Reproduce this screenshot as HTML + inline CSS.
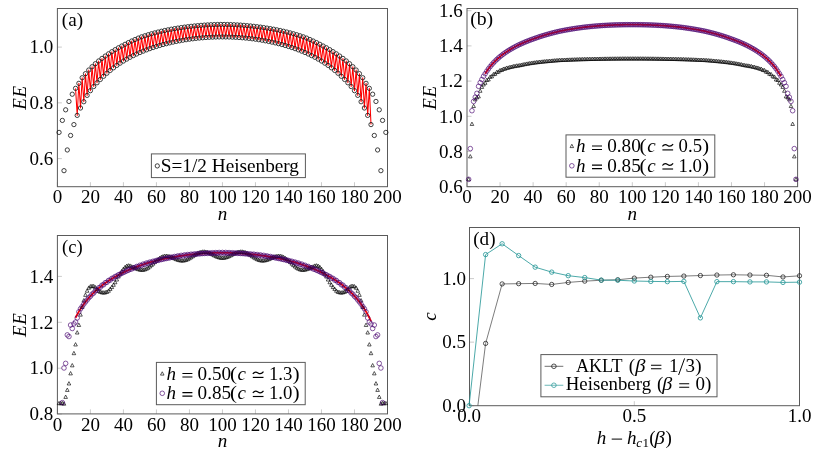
<!DOCTYPE html>
<html><head><meta charset="utf-8"><title>figure</title>
<style>
html,body{margin:0;padding:0;background:#fff;}
svg{display:block;will-change:transform;}
text{font-family:"Liberation Serif",serif;fill:#000;}
</style></head><body>
<svg width="822" height="455" viewBox="0 0 822 455">
<rect width="822" height="455" fill="#fff"/>
<line x1="57.40" y1="186.70" x2="57.40" y2="182.20" stroke="#a8a8a8" stroke-width="0.6"/>
<line x1="90.41" y1="186.70" x2="90.41" y2="182.20" stroke="#a8a8a8" stroke-width="0.6"/>
<line x1="123.42" y1="186.70" x2="123.42" y2="182.20" stroke="#a8a8a8" stroke-width="0.6"/>
<line x1="156.43" y1="186.70" x2="156.43" y2="182.20" stroke="#a8a8a8" stroke-width="0.6"/>
<line x1="189.44" y1="186.70" x2="189.44" y2="182.20" stroke="#a8a8a8" stroke-width="0.6"/>
<line x1="222.45" y1="186.70" x2="222.45" y2="182.20" stroke="#a8a8a8" stroke-width="0.6"/>
<line x1="255.46" y1="186.70" x2="255.46" y2="182.20" stroke="#a8a8a8" stroke-width="0.6"/>
<line x1="288.47" y1="186.70" x2="288.47" y2="182.20" stroke="#a8a8a8" stroke-width="0.6"/>
<line x1="321.48" y1="186.70" x2="321.48" y2="182.20" stroke="#a8a8a8" stroke-width="0.6"/>
<line x1="354.49" y1="186.70" x2="354.49" y2="182.20" stroke="#a8a8a8" stroke-width="0.6"/>
<line x1="387.50" y1="186.70" x2="387.50" y2="182.20" stroke="#a8a8a8" stroke-width="0.6"/>
<line x1="57.40" y1="158.60" x2="61.90" y2="158.60" stroke="#a8a8a8" stroke-width="0.6"/>
<line x1="57.40" y1="102.85" x2="61.90" y2="102.85" stroke="#a8a8a8" stroke-width="0.6"/>
<line x1="57.40" y1="47.10" x2="61.90" y2="47.10" stroke="#a8a8a8" stroke-width="0.6"/>
<rect x="57.40" y="8.50" width="330.10" height="178.20" fill="none" stroke="#5a5a5a" stroke-width="1"/>
<text x="57.40" y="203.40" font-size="19" text-anchor="middle"  style="">0</text>
<text x="90.41" y="203.40" font-size="19" text-anchor="middle"  style="">20</text>
<text x="123.42" y="203.40" font-size="19" text-anchor="middle"  style="">40</text>
<text x="156.43" y="203.40" font-size="19" text-anchor="middle"  style="">60</text>
<text x="189.44" y="203.40" font-size="19" text-anchor="middle"  style="">80</text>
<text x="222.45" y="203.40" font-size="19" text-anchor="middle"  style="">100</text>
<text x="255.46" y="203.40" font-size="19" text-anchor="middle"  style="">120</text>
<text x="288.47" y="203.40" font-size="19" text-anchor="middle"  style="">140</text>
<text x="321.48" y="203.40" font-size="19" text-anchor="middle"  style="">160</text>
<text x="354.49" y="203.40" font-size="19" text-anchor="middle"  style="">180</text>
<text x="387.50" y="203.40" font-size="19" text-anchor="middle"  style="">200</text>
<text x="53.20" y="164.85" font-size="19" text-anchor="end"  style="">0.6</text>
<text x="53.20" y="109.10" font-size="19" text-anchor="end"  style="">0.8</text>
<text x="53.20" y="53.35" font-size="19" text-anchor="end"  style="">1.0</text>
<text x="222.45" y="219.50" font-size="19" text-anchor="middle"  style="font-style:italic">n</text>
<text transform="translate(26.2,97.60) rotate(-90)" font-size="19" text-anchor="middle" style="font-style:italic;letter-spacing:0.6px">EE</text>
<text transform="translate(61.86,25.50) scale(1.0094,1)" font-size="19" style="">(a)</text>
<clipPath id="ca"><rect x="57.4" y="8.5" width="330.1" height="178.2"/></clipPath>
<g clip-path="url(#ca)">
<polyline points="75.56,88.36 77.21,115.39 78.86,83.34 80.51,108.01 82.16,77.75 83.81,101.73 85.46,73.69 87.11,95.38 88.76,70.04 90.41,90.68 92.06,66.74 93.71,86.53 95.36,63.73 97.01,82.80 98.66,60.97 100.31,79.45 101.96,58.42 103.61,76.27 105.26,56.07 106.91,73.23 108.57,53.83 110.22,70.42 111.87,51.68 113.52,67.82 115.17,49.68 116.82,65.40 118.47,47.79 120.12,63.15 121.77,46.02 123.42,61.04 125.07,44.30 126.72,59.11 128.37,42.63 130.02,57.30 131.67,41.04 133.32,55.60 134.97,39.54 136.62,54.01 138.27,38.11 139.93,52.52 141.58,36.85 143.23,51.14 144.88,35.77 146.53,49.86 148.18,34.74 149.83,48.65 151.48,33.78 153.13,47.52 154.78,32.88 156.43,46.46 158.08,32.04 159.73,45.47 161.38,31.25 163.03,44.55 164.68,30.52 166.33,43.69 167.98,29.84 169.63,42.88 171.28,29.21 172.94,42.14 174.59,28.62 176.24,41.45 177.89,28.08 179.54,40.81 181.19,27.58 182.84,40.23 184.49,27.12 186.14,39.70 187.79,26.71 189.44,39.21 191.09,26.32 192.74,38.78 194.39,25.96 196.04,38.39 197.69,25.64 199.34,38.05 200.99,25.36 202.64,37.76 204.29,25.11 205.95,37.51 207.60,24.90 209.25,37.30 210.90,24.74 212.55,37.14 214.20,24.60 215.85,37.02 217.50,24.51 219.15,36.95 220.80,24.45 222.45,36.92 224.10,24.45 225.75,36.95 227.40,24.51 229.05,37.02 230.70,24.60 232.35,37.14 234.00,24.74 235.65,37.30 237.30,24.90 238.96,37.51 240.61,25.11 242.26,37.76 243.91,25.36 245.56,38.05 247.21,25.64 248.86,38.39 250.51,25.96 252.16,38.78 253.81,26.32 255.46,39.21 257.11,26.71 258.76,39.70 260.41,27.12 262.06,40.23 263.71,27.58 265.36,40.81 267.01,28.08 268.66,41.45 270.31,28.62 271.96,42.14 273.62,29.21 275.27,42.88 276.92,29.84 278.57,43.69 280.22,30.52 281.87,44.55 283.52,31.25 285.17,45.47 286.82,32.04 288.47,46.46 290.12,32.88 291.77,47.52 293.42,33.78 295.07,48.65 296.72,34.74 298.37,49.86 300.02,35.77 301.67,51.14 303.32,36.85 304.98,52.52 306.63,38.11 308.28,54.01 309.93,39.54 311.58,55.60 313.23,41.04 314.88,57.30 316.53,42.63 318.18,59.11 319.83,44.30 321.48,61.04 323.13,46.02 324.78,63.15 326.43,47.79 328.08,65.40 329.73,49.68 331.38,67.82 333.03,51.68 334.68,70.42 336.33,53.83 337.99,73.23 339.64,56.07 341.29,76.27 342.94,58.42 344.59,79.45 346.24,60.97 347.89,82.80 349.54,63.73 351.19,86.53 352.84,66.74 354.49,90.68 356.14,70.04 357.79,95.38 359.44,73.69 361.09,101.73 362.74,77.75 364.39,108.01 366.04,83.34 367.69,115.39 369.34,88.36 371.00,124.59" fill="none" stroke="#ff0000" stroke-width="1.05" stroke-linejoin="round"/>
</g>
<g><circle cx="59.05" cy="132.40" r="2.15" fill="none" stroke="#111" stroke-width="0.8"/><circle cx="62.35" cy="120.41" r="2.15" fill="none" stroke="#111" stroke-width="0.8"/><circle cx="64.00" cy="170.67" r="2.15" fill="none" stroke="#111" stroke-width="0.8"/><circle cx="65.65" cy="109.82" r="2.15" fill="none" stroke="#111" stroke-width="0.8"/><circle cx="67.30" cy="149.96" r="2.15" fill="none" stroke="#111" stroke-width="0.8"/><circle cx="68.95" cy="101.46" r="2.15" fill="none" stroke="#111" stroke-width="0.8"/><circle cx="70.60" cy="135.46" r="2.15" fill="none" stroke="#111" stroke-width="0.8"/><circle cx="72.25" cy="94.21" r="2.15" fill="none" stroke="#111" stroke-width="0.8"/><circle cx="73.91" cy="124.59" r="2.15" fill="none" stroke="#111" stroke-width="0.8"/><circle cx="75.56" cy="88.36" r="2.15" fill="none" stroke="#111" stroke-width="0.8"/><circle cx="77.21" cy="115.39" r="2.15" fill="none" stroke="#111" stroke-width="0.8"/><circle cx="78.86" cy="83.34" r="2.15" fill="none" stroke="#111" stroke-width="0.8"/><circle cx="80.51" cy="108.01" r="2.15" fill="none" stroke="#111" stroke-width="0.8"/><circle cx="82.16" cy="77.75" r="2.15" fill="none" stroke="#111" stroke-width="0.8"/><circle cx="83.81" cy="101.73" r="2.15" fill="none" stroke="#111" stroke-width="0.8"/><circle cx="85.46" cy="73.69" r="2.15" fill="none" stroke="#111" stroke-width="0.8"/><circle cx="87.11" cy="95.38" r="2.15" fill="none" stroke="#111" stroke-width="0.8"/><circle cx="88.76" cy="70.04" r="2.15" fill="none" stroke="#111" stroke-width="0.8"/><circle cx="90.41" cy="90.68" r="2.15" fill="none" stroke="#111" stroke-width="0.8"/><circle cx="92.06" cy="66.74" r="2.15" fill="none" stroke="#111" stroke-width="0.8"/><circle cx="93.71" cy="86.53" r="2.15" fill="none" stroke="#111" stroke-width="0.8"/><circle cx="95.36" cy="63.73" r="2.15" fill="none" stroke="#111" stroke-width="0.8"/><circle cx="97.01" cy="82.80" r="2.15" fill="none" stroke="#111" stroke-width="0.8"/><circle cx="98.66" cy="60.97" r="2.15" fill="none" stroke="#111" stroke-width="0.8"/><circle cx="100.31" cy="79.45" r="2.15" fill="none" stroke="#111" stroke-width="0.8"/><circle cx="101.96" cy="58.42" r="2.15" fill="none" stroke="#111" stroke-width="0.8"/><circle cx="103.61" cy="76.27" r="2.15" fill="none" stroke="#111" stroke-width="0.8"/><circle cx="105.26" cy="56.07" r="2.15" fill="none" stroke="#111" stroke-width="0.8"/><circle cx="106.91" cy="73.23" r="2.15" fill="none" stroke="#111" stroke-width="0.8"/><circle cx="108.57" cy="53.83" r="2.15" fill="none" stroke="#111" stroke-width="0.8"/><circle cx="110.22" cy="70.42" r="2.15" fill="none" stroke="#111" stroke-width="0.8"/><circle cx="111.87" cy="51.68" r="2.15" fill="none" stroke="#111" stroke-width="0.8"/><circle cx="113.52" cy="67.82" r="2.15" fill="none" stroke="#111" stroke-width="0.8"/><circle cx="115.17" cy="49.68" r="2.15" fill="none" stroke="#111" stroke-width="0.8"/><circle cx="116.82" cy="65.40" r="2.15" fill="none" stroke="#111" stroke-width="0.8"/><circle cx="118.47" cy="47.79" r="2.15" fill="none" stroke="#111" stroke-width="0.8"/><circle cx="120.12" cy="63.15" r="2.15" fill="none" stroke="#111" stroke-width="0.8"/><circle cx="121.77" cy="46.02" r="2.15" fill="none" stroke="#111" stroke-width="0.8"/><circle cx="123.42" cy="61.04" r="2.15" fill="none" stroke="#111" stroke-width="0.8"/><circle cx="125.07" cy="44.30" r="2.15" fill="none" stroke="#111" stroke-width="0.8"/><circle cx="126.72" cy="59.11" r="2.15" fill="none" stroke="#111" stroke-width="0.8"/><circle cx="128.37" cy="42.63" r="2.15" fill="none" stroke="#111" stroke-width="0.8"/><circle cx="130.02" cy="57.30" r="2.15" fill="none" stroke="#111" stroke-width="0.8"/><circle cx="131.67" cy="41.04" r="2.15" fill="none" stroke="#111" stroke-width="0.8"/><circle cx="133.32" cy="55.60" r="2.15" fill="none" stroke="#111" stroke-width="0.8"/><circle cx="134.97" cy="39.54" r="2.15" fill="none" stroke="#111" stroke-width="0.8"/><circle cx="136.62" cy="54.01" r="2.15" fill="none" stroke="#111" stroke-width="0.8"/><circle cx="138.27" cy="38.11" r="2.15" fill="none" stroke="#111" stroke-width="0.8"/><circle cx="139.93" cy="52.52" r="2.15" fill="none" stroke="#111" stroke-width="0.8"/><circle cx="141.58" cy="36.85" r="2.15" fill="none" stroke="#111" stroke-width="0.8"/><circle cx="143.23" cy="51.14" r="2.15" fill="none" stroke="#111" stroke-width="0.8"/><circle cx="144.88" cy="35.77" r="2.15" fill="none" stroke="#111" stroke-width="0.8"/><circle cx="146.53" cy="49.86" r="2.15" fill="none" stroke="#111" stroke-width="0.8"/><circle cx="148.18" cy="34.74" r="2.15" fill="none" stroke="#111" stroke-width="0.8"/><circle cx="149.83" cy="48.65" r="2.15" fill="none" stroke="#111" stroke-width="0.8"/><circle cx="151.48" cy="33.78" r="2.15" fill="none" stroke="#111" stroke-width="0.8"/><circle cx="153.13" cy="47.52" r="2.15" fill="none" stroke="#111" stroke-width="0.8"/><circle cx="154.78" cy="32.88" r="2.15" fill="none" stroke="#111" stroke-width="0.8"/><circle cx="156.43" cy="46.46" r="2.15" fill="none" stroke="#111" stroke-width="0.8"/><circle cx="158.08" cy="32.04" r="2.15" fill="none" stroke="#111" stroke-width="0.8"/><circle cx="159.73" cy="45.47" r="2.15" fill="none" stroke="#111" stroke-width="0.8"/><circle cx="161.38" cy="31.25" r="2.15" fill="none" stroke="#111" stroke-width="0.8"/><circle cx="163.03" cy="44.55" r="2.15" fill="none" stroke="#111" stroke-width="0.8"/><circle cx="164.68" cy="30.52" r="2.15" fill="none" stroke="#111" stroke-width="0.8"/><circle cx="166.33" cy="43.69" r="2.15" fill="none" stroke="#111" stroke-width="0.8"/><circle cx="167.98" cy="29.84" r="2.15" fill="none" stroke="#111" stroke-width="0.8"/><circle cx="169.63" cy="42.88" r="2.15" fill="none" stroke="#111" stroke-width="0.8"/><circle cx="171.28" cy="29.21" r="2.15" fill="none" stroke="#111" stroke-width="0.8"/><circle cx="172.94" cy="42.14" r="2.15" fill="none" stroke="#111" stroke-width="0.8"/><circle cx="174.59" cy="28.62" r="2.15" fill="none" stroke="#111" stroke-width="0.8"/><circle cx="176.24" cy="41.45" r="2.15" fill="none" stroke="#111" stroke-width="0.8"/><circle cx="177.89" cy="28.08" r="2.15" fill="none" stroke="#111" stroke-width="0.8"/><circle cx="179.54" cy="40.81" r="2.15" fill="none" stroke="#111" stroke-width="0.8"/><circle cx="181.19" cy="27.58" r="2.15" fill="none" stroke="#111" stroke-width="0.8"/><circle cx="182.84" cy="40.23" r="2.15" fill="none" stroke="#111" stroke-width="0.8"/><circle cx="184.49" cy="27.12" r="2.15" fill="none" stroke="#111" stroke-width="0.8"/><circle cx="186.14" cy="39.70" r="2.15" fill="none" stroke="#111" stroke-width="0.8"/><circle cx="187.79" cy="26.71" r="2.15" fill="none" stroke="#111" stroke-width="0.8"/><circle cx="189.44" cy="39.21" r="2.15" fill="none" stroke="#111" stroke-width="0.8"/><circle cx="191.09" cy="26.32" r="2.15" fill="none" stroke="#111" stroke-width="0.8"/><circle cx="192.74" cy="38.78" r="2.15" fill="none" stroke="#111" stroke-width="0.8"/><circle cx="194.39" cy="25.96" r="2.15" fill="none" stroke="#111" stroke-width="0.8"/><circle cx="196.04" cy="38.39" r="2.15" fill="none" stroke="#111" stroke-width="0.8"/><circle cx="197.69" cy="25.64" r="2.15" fill="none" stroke="#111" stroke-width="0.8"/><circle cx="199.34" cy="38.05" r="2.15" fill="none" stroke="#111" stroke-width="0.8"/><circle cx="200.99" cy="25.36" r="2.15" fill="none" stroke="#111" stroke-width="0.8"/><circle cx="202.64" cy="37.76" r="2.15" fill="none" stroke="#111" stroke-width="0.8"/><circle cx="204.29" cy="25.11" r="2.15" fill="none" stroke="#111" stroke-width="0.8"/><circle cx="205.95" cy="37.51" r="2.15" fill="none" stroke="#111" stroke-width="0.8"/><circle cx="207.60" cy="24.90" r="2.15" fill="none" stroke="#111" stroke-width="0.8"/><circle cx="209.25" cy="37.30" r="2.15" fill="none" stroke="#111" stroke-width="0.8"/><circle cx="210.90" cy="24.74" r="2.15" fill="none" stroke="#111" stroke-width="0.8"/><circle cx="212.55" cy="37.14" r="2.15" fill="none" stroke="#111" stroke-width="0.8"/><circle cx="214.20" cy="24.60" r="2.15" fill="none" stroke="#111" stroke-width="0.8"/><circle cx="215.85" cy="37.02" r="2.15" fill="none" stroke="#111" stroke-width="0.8"/><circle cx="217.50" cy="24.51" r="2.15" fill="none" stroke="#111" stroke-width="0.8"/><circle cx="219.15" cy="36.95" r="2.15" fill="none" stroke="#111" stroke-width="0.8"/><circle cx="220.80" cy="24.45" r="2.15" fill="none" stroke="#111" stroke-width="0.8"/><circle cx="222.45" cy="36.92" r="2.15" fill="none" stroke="#111" stroke-width="0.8"/><circle cx="224.10" cy="24.45" r="2.15" fill="none" stroke="#111" stroke-width="0.8"/><circle cx="225.75" cy="36.95" r="2.15" fill="none" stroke="#111" stroke-width="0.8"/><circle cx="227.40" cy="24.51" r="2.15" fill="none" stroke="#111" stroke-width="0.8"/><circle cx="229.05" cy="37.02" r="2.15" fill="none" stroke="#111" stroke-width="0.8"/><circle cx="230.70" cy="24.60" r="2.15" fill="none" stroke="#111" stroke-width="0.8"/><circle cx="232.35" cy="37.14" r="2.15" fill="none" stroke="#111" stroke-width="0.8"/><circle cx="234.00" cy="24.74" r="2.15" fill="none" stroke="#111" stroke-width="0.8"/><circle cx="235.65" cy="37.30" r="2.15" fill="none" stroke="#111" stroke-width="0.8"/><circle cx="237.30" cy="24.90" r="2.15" fill="none" stroke="#111" stroke-width="0.8"/><circle cx="238.96" cy="37.51" r="2.15" fill="none" stroke="#111" stroke-width="0.8"/><circle cx="240.61" cy="25.11" r="2.15" fill="none" stroke="#111" stroke-width="0.8"/><circle cx="242.26" cy="37.76" r="2.15" fill="none" stroke="#111" stroke-width="0.8"/><circle cx="243.91" cy="25.36" r="2.15" fill="none" stroke="#111" stroke-width="0.8"/><circle cx="245.56" cy="38.05" r="2.15" fill="none" stroke="#111" stroke-width="0.8"/><circle cx="247.21" cy="25.64" r="2.15" fill="none" stroke="#111" stroke-width="0.8"/><circle cx="248.86" cy="38.39" r="2.15" fill="none" stroke="#111" stroke-width="0.8"/><circle cx="250.51" cy="25.96" r="2.15" fill="none" stroke="#111" stroke-width="0.8"/><circle cx="252.16" cy="38.78" r="2.15" fill="none" stroke="#111" stroke-width="0.8"/><circle cx="253.81" cy="26.32" r="2.15" fill="none" stroke="#111" stroke-width="0.8"/><circle cx="255.46" cy="39.21" r="2.15" fill="none" stroke="#111" stroke-width="0.8"/><circle cx="257.11" cy="26.71" r="2.15" fill="none" stroke="#111" stroke-width="0.8"/><circle cx="258.76" cy="39.70" r="2.15" fill="none" stroke="#111" stroke-width="0.8"/><circle cx="260.41" cy="27.12" r="2.15" fill="none" stroke="#111" stroke-width="0.8"/><circle cx="262.06" cy="40.23" r="2.15" fill="none" stroke="#111" stroke-width="0.8"/><circle cx="263.71" cy="27.58" r="2.15" fill="none" stroke="#111" stroke-width="0.8"/><circle cx="265.36" cy="40.81" r="2.15" fill="none" stroke="#111" stroke-width="0.8"/><circle cx="267.01" cy="28.08" r="2.15" fill="none" stroke="#111" stroke-width="0.8"/><circle cx="268.66" cy="41.45" r="2.15" fill="none" stroke="#111" stroke-width="0.8"/><circle cx="270.31" cy="28.62" r="2.15" fill="none" stroke="#111" stroke-width="0.8"/><circle cx="271.96" cy="42.14" r="2.15" fill="none" stroke="#111" stroke-width="0.8"/><circle cx="273.62" cy="29.21" r="2.15" fill="none" stroke="#111" stroke-width="0.8"/><circle cx="275.27" cy="42.88" r="2.15" fill="none" stroke="#111" stroke-width="0.8"/><circle cx="276.92" cy="29.84" r="2.15" fill="none" stroke="#111" stroke-width="0.8"/><circle cx="278.57" cy="43.69" r="2.15" fill="none" stroke="#111" stroke-width="0.8"/><circle cx="280.22" cy="30.52" r="2.15" fill="none" stroke="#111" stroke-width="0.8"/><circle cx="281.87" cy="44.55" r="2.15" fill="none" stroke="#111" stroke-width="0.8"/><circle cx="283.52" cy="31.25" r="2.15" fill="none" stroke="#111" stroke-width="0.8"/><circle cx="285.17" cy="45.47" r="2.15" fill="none" stroke="#111" stroke-width="0.8"/><circle cx="286.82" cy="32.04" r="2.15" fill="none" stroke="#111" stroke-width="0.8"/><circle cx="288.47" cy="46.46" r="2.15" fill="none" stroke="#111" stroke-width="0.8"/><circle cx="290.12" cy="32.88" r="2.15" fill="none" stroke="#111" stroke-width="0.8"/><circle cx="291.77" cy="47.52" r="2.15" fill="none" stroke="#111" stroke-width="0.8"/><circle cx="293.42" cy="33.78" r="2.15" fill="none" stroke="#111" stroke-width="0.8"/><circle cx="295.07" cy="48.65" r="2.15" fill="none" stroke="#111" stroke-width="0.8"/><circle cx="296.72" cy="34.74" r="2.15" fill="none" stroke="#111" stroke-width="0.8"/><circle cx="298.37" cy="49.86" r="2.15" fill="none" stroke="#111" stroke-width="0.8"/><circle cx="300.02" cy="35.77" r="2.15" fill="none" stroke="#111" stroke-width="0.8"/><circle cx="301.67" cy="51.14" r="2.15" fill="none" stroke="#111" stroke-width="0.8"/><circle cx="303.32" cy="36.85" r="2.15" fill="none" stroke="#111" stroke-width="0.8"/><circle cx="304.98" cy="52.52" r="2.15" fill="none" stroke="#111" stroke-width="0.8"/><circle cx="306.63" cy="38.11" r="2.15" fill="none" stroke="#111" stroke-width="0.8"/><circle cx="308.28" cy="54.01" r="2.15" fill="none" stroke="#111" stroke-width="0.8"/><circle cx="309.93" cy="39.54" r="2.15" fill="none" stroke="#111" stroke-width="0.8"/><circle cx="311.58" cy="55.60" r="2.15" fill="none" stroke="#111" stroke-width="0.8"/><circle cx="313.23" cy="41.04" r="2.15" fill="none" stroke="#111" stroke-width="0.8"/><circle cx="314.88" cy="57.30" r="2.15" fill="none" stroke="#111" stroke-width="0.8"/><circle cx="316.53" cy="42.63" r="2.15" fill="none" stroke="#111" stroke-width="0.8"/><circle cx="318.18" cy="59.11" r="2.15" fill="none" stroke="#111" stroke-width="0.8"/><circle cx="319.83" cy="44.30" r="2.15" fill="none" stroke="#111" stroke-width="0.8"/><circle cx="321.48" cy="61.04" r="2.15" fill="none" stroke="#111" stroke-width="0.8"/><circle cx="323.13" cy="46.02" r="2.15" fill="none" stroke="#111" stroke-width="0.8"/><circle cx="324.78" cy="63.15" r="2.15" fill="none" stroke="#111" stroke-width="0.8"/><circle cx="326.43" cy="47.79" r="2.15" fill="none" stroke="#111" stroke-width="0.8"/><circle cx="328.08" cy="65.40" r="2.15" fill="none" stroke="#111" stroke-width="0.8"/><circle cx="329.73" cy="49.68" r="2.15" fill="none" stroke="#111" stroke-width="0.8"/><circle cx="331.38" cy="67.82" r="2.15" fill="none" stroke="#111" stroke-width="0.8"/><circle cx="333.03" cy="51.68" r="2.15" fill="none" stroke="#111" stroke-width="0.8"/><circle cx="334.68" cy="70.42" r="2.15" fill="none" stroke="#111" stroke-width="0.8"/><circle cx="336.33" cy="53.83" r="2.15" fill="none" stroke="#111" stroke-width="0.8"/><circle cx="337.99" cy="73.23" r="2.15" fill="none" stroke="#111" stroke-width="0.8"/><circle cx="339.64" cy="56.07" r="2.15" fill="none" stroke="#111" stroke-width="0.8"/><circle cx="341.29" cy="76.27" r="2.15" fill="none" stroke="#111" stroke-width="0.8"/><circle cx="342.94" cy="58.42" r="2.15" fill="none" stroke="#111" stroke-width="0.8"/><circle cx="344.59" cy="79.45" r="2.15" fill="none" stroke="#111" stroke-width="0.8"/><circle cx="346.24" cy="60.97" r="2.15" fill="none" stroke="#111" stroke-width="0.8"/><circle cx="347.89" cy="82.80" r="2.15" fill="none" stroke="#111" stroke-width="0.8"/><circle cx="349.54" cy="63.73" r="2.15" fill="none" stroke="#111" stroke-width="0.8"/><circle cx="351.19" cy="86.53" r="2.15" fill="none" stroke="#111" stroke-width="0.8"/><circle cx="352.84" cy="66.74" r="2.15" fill="none" stroke="#111" stroke-width="0.8"/><circle cx="354.49" cy="90.68" r="2.15" fill="none" stroke="#111" stroke-width="0.8"/><circle cx="356.14" cy="70.04" r="2.15" fill="none" stroke="#111" stroke-width="0.8"/><circle cx="357.79" cy="95.38" r="2.15" fill="none" stroke="#111" stroke-width="0.8"/><circle cx="359.44" cy="73.69" r="2.15" fill="none" stroke="#111" stroke-width="0.8"/><circle cx="361.09" cy="101.73" r="2.15" fill="none" stroke="#111" stroke-width="0.8"/><circle cx="362.74" cy="77.75" r="2.15" fill="none" stroke="#111" stroke-width="0.8"/><circle cx="364.39" cy="108.01" r="2.15" fill="none" stroke="#111" stroke-width="0.8"/><circle cx="366.04" cy="83.34" r="2.15" fill="none" stroke="#111" stroke-width="0.8"/><circle cx="367.69" cy="115.39" r="2.15" fill="none" stroke="#111" stroke-width="0.8"/><circle cx="369.34" cy="88.36" r="2.15" fill="none" stroke="#111" stroke-width="0.8"/><circle cx="371.00" cy="124.59" r="2.15" fill="none" stroke="#111" stroke-width="0.8"/><circle cx="372.65" cy="94.21" r="2.15" fill="none" stroke="#111" stroke-width="0.8"/><circle cx="374.30" cy="135.46" r="2.15" fill="none" stroke="#111" stroke-width="0.8"/><circle cx="375.95" cy="101.46" r="2.15" fill="none" stroke="#111" stroke-width="0.8"/><circle cx="377.60" cy="149.96" r="2.15" fill="none" stroke="#111" stroke-width="0.8"/><circle cx="379.25" cy="109.82" r="2.15" fill="none" stroke="#111" stroke-width="0.8"/><circle cx="380.90" cy="170.67" r="2.15" fill="none" stroke="#111" stroke-width="0.8"/><circle cx="382.55" cy="120.41" r="2.15" fill="none" stroke="#111" stroke-width="0.8"/><circle cx="385.85" cy="132.40" r="2.15" fill="none" stroke="#111" stroke-width="0.8"/></g>
<rect x="151.4" y="153.9" width="153.99999999999997" height="23.69999999999999" fill="#fff" stroke="#5a5a5a" stroke-width="1"/>
<circle cx="157.30" cy="165.90" r="2.15" fill="none" stroke="#111" stroke-width="0.8"/>
<text transform="translate(160.81,172.00) scale(1.0133,1)" font-size="19" style="">S=1/2 Heisenberg</text>
<line x1="467.00" y1="186.70" x2="467.00" y2="182.20" stroke="#a8a8a8" stroke-width="0.6"/>
<line x1="500.06" y1="186.70" x2="500.06" y2="182.20" stroke="#a8a8a8" stroke-width="0.6"/>
<line x1="533.12" y1="186.70" x2="533.12" y2="182.20" stroke="#a8a8a8" stroke-width="0.6"/>
<line x1="566.18" y1="186.70" x2="566.18" y2="182.20" stroke="#a8a8a8" stroke-width="0.6"/>
<line x1="599.24" y1="186.70" x2="599.24" y2="182.20" stroke="#a8a8a8" stroke-width="0.6"/>
<line x1="632.30" y1="186.70" x2="632.30" y2="182.20" stroke="#a8a8a8" stroke-width="0.6"/>
<line x1="665.36" y1="186.70" x2="665.36" y2="182.20" stroke="#a8a8a8" stroke-width="0.6"/>
<line x1="698.42" y1="186.70" x2="698.42" y2="182.20" stroke="#a8a8a8" stroke-width="0.6"/>
<line x1="731.48" y1="186.70" x2="731.48" y2="182.20" stroke="#a8a8a8" stroke-width="0.6"/>
<line x1="764.54" y1="186.70" x2="764.54" y2="182.20" stroke="#a8a8a8" stroke-width="0.6"/>
<line x1="797.60" y1="186.70" x2="797.60" y2="182.20" stroke="#a8a8a8" stroke-width="0.6"/>
<line x1="467.00" y1="186.70" x2="471.50" y2="186.70" stroke="#a8a8a8" stroke-width="0.6"/>
<line x1="467.00" y1="151.50" x2="471.50" y2="151.50" stroke="#a8a8a8" stroke-width="0.6"/>
<line x1="467.00" y1="116.30" x2="471.50" y2="116.30" stroke="#a8a8a8" stroke-width="0.6"/>
<line x1="467.00" y1="81.10" x2="471.50" y2="81.10" stroke="#a8a8a8" stroke-width="0.6"/>
<line x1="467.00" y1="45.90" x2="471.50" y2="45.90" stroke="#a8a8a8" stroke-width="0.6"/>
<line x1="467.00" y1="10.70" x2="471.50" y2="10.70" stroke="#a8a8a8" stroke-width="0.6"/>
<rect x="467.00" y="8.50" width="330.60" height="178.20" fill="none" stroke="#5a5a5a" stroke-width="1"/>
<text x="467.00" y="203.40" font-size="19" text-anchor="middle"  style="">0</text>
<text x="500.06" y="203.40" font-size="19" text-anchor="middle"  style="">20</text>
<text x="533.12" y="203.40" font-size="19" text-anchor="middle"  style="">40</text>
<text x="566.18" y="203.40" font-size="19" text-anchor="middle"  style="">60</text>
<text x="599.24" y="203.40" font-size="19" text-anchor="middle"  style="">80</text>
<text x="632.30" y="203.40" font-size="19" text-anchor="middle"  style="">100</text>
<text x="665.36" y="203.40" font-size="19" text-anchor="middle"  style="">120</text>
<text x="698.42" y="203.40" font-size="19" text-anchor="middle"  style="">140</text>
<text x="731.48" y="203.40" font-size="19" text-anchor="middle"  style="">160</text>
<text x="764.54" y="203.40" font-size="19" text-anchor="middle"  style="">180</text>
<text x="797.60" y="203.40" font-size="19" text-anchor="middle"  style="">200</text>
<text x="462.80" y="192.95" font-size="19" text-anchor="end"  style="">0.6</text>
<text x="462.80" y="157.75" font-size="19" text-anchor="end"  style="">0.8</text>
<text x="462.80" y="122.55" font-size="19" text-anchor="end"  style="">1.0</text>
<text x="462.80" y="87.35" font-size="19" text-anchor="end"  style="">1.2</text>
<text x="462.80" y="52.15" font-size="19" text-anchor="end"  style="">1.4</text>
<text x="462.80" y="16.95" font-size="19" text-anchor="end"  style="">1.6</text>
<text x="632.30" y="219.50" font-size="19" text-anchor="middle"  style="font-style:italic">n</text>
<text transform="translate(435.5,97.60) rotate(-90)" font-size="19" text-anchor="middle" style="font-style:italic;letter-spacing:0.6px">EE</text>
<text transform="translate(470.13,25.10) scale(1.0398,1)" font-size="19" style="">(b)</text>
<polyline points="485.18,73.70 486.84,71.13 488.49,68.78 490.14,66.63 491.80,64.65 493.45,62.81 495.10,61.10 496.75,59.51 498.41,58.01 500.06,56.60 501.71,55.28 503.37,54.02 505.02,52.84 506.67,51.71 508.32,50.64 509.98,49.62 511.63,48.65 513.28,47.72 514.94,46.83 516.59,45.98 518.24,45.16 519.90,44.38 521.55,43.61 523.20,42.88 524.86,42.17 526.51,41.49 528.16,40.84 529.81,40.20 531.47,39.59 533.12,39.00 534.77,38.40 536.43,37.81 538.08,37.24 539.73,36.69 541.38,36.16 543.04,35.64 544.69,35.14 546.34,34.65 548.00,34.18 549.65,33.72 551.30,33.27 552.96,32.84 554.61,32.42 556.26,32.01 557.91,31.62 559.57,31.23 561.22,30.89 562.87,30.57 564.53,30.25 566.18,29.94 567.83,29.65 569.49,29.36 571.14,29.08 572.79,28.81 574.45,28.55 576.10,28.30 577.75,28.06 579.40,27.83 581.06,27.60 582.71,27.38 584.36,27.19 586.02,27.00 587.67,26.82 589.32,26.65 590.98,26.48 592.63,26.33 594.28,26.18 595.93,26.03 597.59,25.90 599.24,25.77 600.89,25.65 602.55,25.54 604.20,25.44 605.85,25.35 607.50,25.26 609.16,25.18 610.81,25.10 612.46,25.03 614.12,24.97 615.77,24.91 617.42,24.86 619.08,24.82 620.73,24.78 622.38,24.75 624.03,24.72 625.69,24.70 627.34,24.69 628.99,24.68 630.65,24.68 632.30,24.68 633.95,24.68 635.61,24.68 637.26,24.69 638.91,24.70 640.57,24.72 642.22,24.75 643.87,24.78 645.52,24.82 647.18,24.86 648.83,24.91 650.48,24.97 652.14,25.03 653.79,25.10 655.44,25.18 657.10,25.26 658.75,25.35 660.40,25.44 662.05,25.54 663.71,25.65 665.36,25.77 667.01,25.90 668.67,26.03 670.32,26.18 671.97,26.33 673.62,26.48 675.28,26.65 676.93,26.82 678.58,27.00 680.24,27.19 681.89,27.38 683.54,27.60 685.20,27.83 686.85,28.06 688.50,28.30 690.15,28.55 691.81,28.81 693.46,29.08 695.11,29.36 696.77,29.65 698.42,29.94 700.07,30.25 701.73,30.57 703.38,30.89 705.03,31.23 706.68,31.62 708.34,32.01 709.99,32.42 711.64,32.84 713.30,33.27 714.95,33.72 716.60,34.18 718.26,34.65 719.91,35.14 721.56,35.64 723.22,36.16 724.87,36.69 726.52,37.24 728.17,37.81 729.83,38.40 731.48,39.00 733.13,39.59 734.79,40.20 736.44,40.84 738.09,41.49 739.75,42.17 741.40,42.88 743.05,43.61 744.70,44.38 746.36,45.16 748.01,45.98 749.66,46.83 751.32,47.72 752.97,48.65 754.62,49.62 756.27,50.64 757.93,51.71 759.58,52.84 761.23,54.02 762.89,55.28 764.54,56.60 766.19,58.01 767.85,59.51 769.50,61.10 771.15,62.81 772.81,64.65 774.46,66.63 776.11,68.78 777.76,71.13 779.42,73.70 781.07,76.31" fill="none" stroke="#ff0000" stroke-width="1.8" stroke-linejoin="round"/>
<g><path d="M468.65 177.38L470.45 180.73L466.86 180.73Z" fill="none" stroke="#000000" stroke-width="0.65"/><path d="M470.31 154.57L472.10 157.92L468.51 157.92Z" fill="none" stroke="#000000" stroke-width="0.65"/><path d="M471.96 122.10L473.75 125.45L470.17 125.45Z" fill="none" stroke="#000000" stroke-width="0.65"/><path d="M473.61 104.20L475.41 107.55L471.82 107.55Z" fill="none" stroke="#000000" stroke-width="0.65"/><path d="M475.26 97.53L477.06 100.88L473.47 100.88Z" fill="none" stroke="#000000" stroke-width="0.65"/><path d="M476.92 95.60L478.71 98.95L475.12 98.95Z" fill="none" stroke="#000000" stroke-width="0.65"/><path d="M478.57 94.54L480.37 97.90L476.78 97.90Z" fill="none" stroke="#000000" stroke-width="0.65"/><path d="M480.22 88.93L482.02 92.28L478.43 92.28Z" fill="none" stroke="#000000" stroke-width="0.65"/><path d="M481.88 85.07L483.67 88.42L480.08 88.42Z" fill="none" stroke="#000000" stroke-width="0.65"/><path d="M483.53 82.61L485.32 85.97L481.74 85.97Z" fill="none" stroke="#000000" stroke-width="0.65"/><path d="M485.18 80.93L486.98 84.29L483.39 84.29Z" fill="none" stroke="#000000" stroke-width="0.65"/><path d="M486.84 78.15L488.63 81.50L485.04 81.50Z" fill="none" stroke="#000000" stroke-width="0.65"/><path d="M488.49 77.59L490.28 80.94L486.69 80.94Z" fill="none" stroke="#000000" stroke-width="0.65"/><path d="M490.14 74.95L491.94 78.30L488.35 78.30Z" fill="none" stroke="#000000" stroke-width="0.65"/><path d="M491.80 74.49L493.59 77.84L490.00 77.84Z" fill="none" stroke="#000000" stroke-width="0.65"/><path d="M493.45 72.40L495.24 75.75L491.65 75.75Z" fill="none" stroke="#000000" stroke-width="0.65"/><path d="M495.10 71.96L496.89 75.31L493.31 75.31Z" fill="none" stroke="#000000" stroke-width="0.65"/><path d="M496.75 70.21L498.55 73.57L494.96 73.57Z" fill="none" stroke="#000000" stroke-width="0.65"/><path d="M498.41 69.84L500.20 73.20L496.61 73.20Z" fill="none" stroke="#000000" stroke-width="0.65"/><path d="M500.06 68.42L501.85 71.78L498.27 71.78Z" fill="none" stroke="#000000" stroke-width="0.65"/><path d="M501.71 68.15L503.51 71.51L499.92 71.51Z" fill="none" stroke="#000000" stroke-width="0.65"/><path d="M503.37 67.04L505.16 70.39L501.57 70.39Z" fill="none" stroke="#000000" stroke-width="0.65"/><path d="M505.02 66.85L506.81 70.20L503.23 70.20Z" fill="none" stroke="#000000" stroke-width="0.65"/><path d="M506.67 65.97L508.47 69.33L504.88 69.33Z" fill="none" stroke="#000000" stroke-width="0.65"/><path d="M508.32 65.86L510.12 69.21L506.53 69.21Z" fill="none" stroke="#000000" stroke-width="0.65"/><path d="M509.98 65.18L511.77 68.54L508.18 68.54Z" fill="none" stroke="#000000" stroke-width="0.65"/><path d="M511.63 65.02L513.42 68.37L509.84 68.37Z" fill="none" stroke="#000000" stroke-width="0.65"/><path d="M513.28 64.39L515.08 67.75L511.49 67.75Z" fill="none" stroke="#000000" stroke-width="0.65"/><path d="M514.94 64.28L516.73 67.63L513.14 67.63Z" fill="none" stroke="#000000" stroke-width="0.65"/><path d="M516.59 63.79L518.38 67.15L514.80 67.15Z" fill="none" stroke="#000000" stroke-width="0.65"/><path d="M518.24 63.73L520.04 67.08L516.45 67.08Z" fill="none" stroke="#000000" stroke-width="0.65"/><path d="M519.90 63.35L521.69 66.70L518.10 66.70Z" fill="none" stroke="#000000" stroke-width="0.65"/><path d="M521.55 63.10L523.34 66.45L519.75 66.45Z" fill="none" stroke="#000000" stroke-width="0.65"/><path d="M523.20 62.60L525.00 65.95L521.41 65.95Z" fill="none" stroke="#000000" stroke-width="0.65"/><path d="M524.86 62.38L526.65 65.73L523.06 65.73Z" fill="none" stroke="#000000" stroke-width="0.65"/><path d="M526.51 61.95L528.30 65.31L524.71 65.31Z" fill="none" stroke="#000000" stroke-width="0.65"/><path d="M528.16 61.76L529.96 65.11L526.37 65.11Z" fill="none" stroke="#000000" stroke-width="0.65"/><path d="M529.81 61.39L531.61 64.75L528.02 64.75Z" fill="none" stroke="#000000" stroke-width="0.65"/><path d="M531.47 61.22L533.26 64.57L529.67 64.57Z" fill="none" stroke="#000000" stroke-width="0.65"/><path d="M533.12 60.90L534.91 64.25L531.33 64.25Z" fill="none" stroke="#000000" stroke-width="0.65"/><path d="M534.77 60.73L536.57 64.09L532.98 64.09Z" fill="none" stroke="#000000" stroke-width="0.65"/><path d="M536.43 60.46L538.22 63.81L534.63 63.81Z" fill="none" stroke="#000000" stroke-width="0.65"/><path d="M538.08 60.30L539.87 63.66L536.28 63.66Z" fill="none" stroke="#000000" stroke-width="0.65"/><path d="M539.73 60.06L541.53 63.41L537.94 63.41Z" fill="none" stroke="#000000" stroke-width="0.65"/><path d="M541.38 59.92L543.18 63.28L539.59 63.28Z" fill="none" stroke="#000000" stroke-width="0.65"/><path d="M543.04 59.71L544.83 63.06L541.24 63.06Z" fill="none" stroke="#000000" stroke-width="0.65"/><path d="M544.69 59.58L546.49 62.93L542.90 62.93Z" fill="none" stroke="#000000" stroke-width="0.65"/><path d="M546.34 59.39L548.14 62.74L544.55 62.74Z" fill="none" stroke="#000000" stroke-width="0.65"/><path d="M548.00 59.26L549.79 62.61L546.20 62.61Z" fill="none" stroke="#000000" stroke-width="0.65"/><path d="M549.65 59.08L551.44 62.44L547.86 62.44Z" fill="none" stroke="#000000" stroke-width="0.65"/><path d="M551.30 58.96L553.10 62.31L549.51 62.31Z" fill="none" stroke="#000000" stroke-width="0.65"/><path d="M552.96 58.79L554.75 62.15L551.16 62.15Z" fill="none" stroke="#000000" stroke-width="0.65"/><path d="M554.61 58.67L556.40 62.03L552.82 62.03Z" fill="none" stroke="#000000" stroke-width="0.65"/><path d="M556.26 58.52L558.06 61.87L554.47 61.87Z" fill="none" stroke="#000000" stroke-width="0.65"/><path d="M557.91 58.40L559.71 61.75L556.12 61.75Z" fill="none" stroke="#000000" stroke-width="0.65"/><path d="M559.57 58.25L561.36 61.60L557.77 61.60Z" fill="none" stroke="#000000" stroke-width="0.65"/><path d="M561.22 58.19L563.01 61.54L559.43 61.54Z" fill="none" stroke="#000000" stroke-width="0.65"/><path d="M562.87 58.11L564.67 61.46L561.08 61.46Z" fill="none" stroke="#000000" stroke-width="0.65"/><path d="M564.53 58.05L566.32 61.40L562.73 61.40Z" fill="none" stroke="#000000" stroke-width="0.65"/><path d="M566.18 57.97L567.97 61.33L564.39 61.33Z" fill="none" stroke="#000000" stroke-width="0.65"/><path d="M567.83 57.92L569.63 61.27L566.04 61.27Z" fill="none" stroke="#000000" stroke-width="0.65"/><path d="M569.49 57.84L571.28 61.20L567.69 61.20Z" fill="none" stroke="#000000" stroke-width="0.65"/><path d="M571.14 57.78L572.93 61.14L569.35 61.14Z" fill="none" stroke="#000000" stroke-width="0.65"/><path d="M572.79 57.71L574.59 61.07L571.00 61.07Z" fill="none" stroke="#000000" stroke-width="0.65"/><path d="M574.45 57.66L576.24 61.01L572.65 61.01Z" fill="none" stroke="#000000" stroke-width="0.65"/><path d="M576.10 57.59L577.89 60.94L574.30 60.94Z" fill="none" stroke="#000000" stroke-width="0.65"/><path d="M577.75 57.53L579.54 60.89L575.96 60.89Z" fill="none" stroke="#000000" stroke-width="0.65"/><path d="M579.40 57.47L581.20 60.82L577.61 60.82Z" fill="none" stroke="#000000" stroke-width="0.65"/><path d="M581.06 57.41L582.85 60.76L579.26 60.76Z" fill="none" stroke="#000000" stroke-width="0.65"/><path d="M582.71 57.35L584.50 60.70L580.92 60.70Z" fill="none" stroke="#000000" stroke-width="0.65"/><path d="M584.36 57.31L586.16 60.66L582.57 60.66Z" fill="none" stroke="#000000" stroke-width="0.65"/><path d="M586.02 57.27L587.81 60.62L584.22 60.62Z" fill="none" stroke="#000000" stroke-width="0.65"/><path d="M587.67 57.23L589.46 60.58L585.88 60.58Z" fill="none" stroke="#000000" stroke-width="0.65"/><path d="M589.32 57.19L591.12 60.54L587.53 60.54Z" fill="none" stroke="#000000" stroke-width="0.65"/><path d="M590.98 57.16L592.77 60.51L589.18 60.51Z" fill="none" stroke="#000000" stroke-width="0.65"/><path d="M592.63 57.12L594.42 60.47L590.83 60.47Z" fill="none" stroke="#000000" stroke-width="0.65"/><path d="M594.28 57.09L596.07 60.44L592.49 60.44Z" fill="none" stroke="#000000" stroke-width="0.65"/><path d="M595.93 57.05L597.73 60.40L594.14 60.40Z" fill="none" stroke="#000000" stroke-width="0.65"/><path d="M597.59 57.02L599.38 60.37L595.79 60.37Z" fill="none" stroke="#000000" stroke-width="0.65"/><path d="M599.24 56.99L601.03 60.34L597.45 60.34Z" fill="none" stroke="#000000" stroke-width="0.65"/><path d="M600.89 56.96L602.69 60.31L599.10 60.31Z" fill="none" stroke="#000000" stroke-width="0.65"/><path d="M602.55 56.93L604.34 60.28L600.75 60.28Z" fill="none" stroke="#000000" stroke-width="0.65"/><path d="M604.20 56.90L605.99 60.26L602.41 60.26Z" fill="none" stroke="#000000" stroke-width="0.65"/><path d="M605.85 56.87L607.65 60.23L604.06 60.23Z" fill="none" stroke="#000000" stroke-width="0.65"/><path d="M607.50 56.85L609.30 60.21L605.71 60.21Z" fill="none" stroke="#000000" stroke-width="0.65"/><path d="M609.16 56.83L610.95 60.18L607.36 60.18Z" fill="none" stroke="#000000" stroke-width="0.65"/><path d="M610.81 56.81L612.61 60.16L609.02 60.16Z" fill="none" stroke="#000000" stroke-width="0.65"/><path d="M612.46 56.79L614.26 60.14L610.67 60.14Z" fill="none" stroke="#000000" stroke-width="0.65"/><path d="M614.12 56.77L615.91 60.12L612.32 60.12Z" fill="none" stroke="#000000" stroke-width="0.65"/><path d="M615.77 56.75L617.56 60.11L613.98 60.11Z" fill="none" stroke="#000000" stroke-width="0.65"/><path d="M617.42 56.74L619.22 60.09L615.63 60.09Z" fill="none" stroke="#000000" stroke-width="0.65"/><path d="M619.08 56.73L620.87 60.08L617.28 60.08Z" fill="none" stroke="#000000" stroke-width="0.65"/><path d="M620.73 56.72L622.52 60.07L618.94 60.07Z" fill="none" stroke="#000000" stroke-width="0.65"/><path d="M622.38 56.71L624.18 60.06L620.59 60.06Z" fill="none" stroke="#000000" stroke-width="0.65"/><path d="M624.03 56.70L625.83 60.06L622.24 60.06Z" fill="none" stroke="#000000" stroke-width="0.65"/><path d="M625.69 56.70L627.48 60.05L623.89 60.05Z" fill="none" stroke="#000000" stroke-width="0.65"/><path d="M627.34 56.70L629.13 60.05L625.55 60.05Z" fill="none" stroke="#000000" stroke-width="0.65"/><path d="M628.99 56.70L630.79 60.05L627.20 60.05Z" fill="none" stroke="#000000" stroke-width="0.65"/><path d="M630.65 56.70L632.44 60.05L628.85 60.05Z" fill="none" stroke="#000000" stroke-width="0.65"/><path d="M632.30 56.70L634.09 60.06L630.51 60.06Z" fill="none" stroke="#000000" stroke-width="0.65"/><path d="M633.95 56.70L635.75 60.05L632.16 60.05Z" fill="none" stroke="#000000" stroke-width="0.65"/><path d="M635.61 56.70L637.40 60.05L633.81 60.05Z" fill="none" stroke="#000000" stroke-width="0.65"/><path d="M637.26 56.70L639.05 60.05L635.47 60.05Z" fill="none" stroke="#000000" stroke-width="0.65"/><path d="M638.91 56.70L640.71 60.05L637.12 60.05Z" fill="none" stroke="#000000" stroke-width="0.65"/><path d="M640.57 56.70L642.36 60.06L638.77 60.06Z" fill="none" stroke="#000000" stroke-width="0.65"/><path d="M642.22 56.71L644.01 60.06L640.42 60.06Z" fill="none" stroke="#000000" stroke-width="0.65"/><path d="M643.87 56.72L645.66 60.07L642.08 60.07Z" fill="none" stroke="#000000" stroke-width="0.65"/><path d="M645.52 56.73L647.32 60.08L643.73 60.08Z" fill="none" stroke="#000000" stroke-width="0.65"/><path d="M647.18 56.74L648.97 60.09L645.38 60.09Z" fill="none" stroke="#000000" stroke-width="0.65"/><path d="M648.83 56.75L650.62 60.11L647.04 60.11Z" fill="none" stroke="#000000" stroke-width="0.65"/><path d="M650.48 56.77L652.28 60.12L648.69 60.12Z" fill="none" stroke="#000000" stroke-width="0.65"/><path d="M652.14 56.79L653.93 60.14L650.34 60.14Z" fill="none" stroke="#000000" stroke-width="0.65"/><path d="M653.79 56.81L655.58 60.16L652.00 60.16Z" fill="none" stroke="#000000" stroke-width="0.65"/><path d="M655.44 56.83L657.24 60.18L653.65 60.18Z" fill="none" stroke="#000000" stroke-width="0.65"/><path d="M657.10 56.85L658.89 60.21L655.30 60.21Z" fill="none" stroke="#000000" stroke-width="0.65"/><path d="M658.75 56.87L660.54 60.23L656.95 60.23Z" fill="none" stroke="#000000" stroke-width="0.65"/><path d="M660.40 56.90L662.20 60.26L658.61 60.26Z" fill="none" stroke="#000000" stroke-width="0.65"/><path d="M662.05 56.93L663.85 60.28L660.26 60.28Z" fill="none" stroke="#000000" stroke-width="0.65"/><path d="M663.71 56.96L665.50 60.31L661.91 60.31Z" fill="none" stroke="#000000" stroke-width="0.65"/><path d="M665.36 56.99L667.15 60.34L663.57 60.34Z" fill="none" stroke="#000000" stroke-width="0.65"/><path d="M667.01 57.02L668.81 60.37L665.22 60.37Z" fill="none" stroke="#000000" stroke-width="0.65"/><path d="M668.67 57.05L670.46 60.40L666.87 60.40Z" fill="none" stroke="#000000" stroke-width="0.65"/><path d="M670.32 57.09L672.11 60.44L668.52 60.44Z" fill="none" stroke="#000000" stroke-width="0.65"/><path d="M671.97 57.12L673.77 60.47L670.18 60.47Z" fill="none" stroke="#000000" stroke-width="0.65"/><path d="M673.62 57.16L675.42 60.51L671.83 60.51Z" fill="none" stroke="#000000" stroke-width="0.65"/><path d="M675.28 57.19L677.07 60.54L673.48 60.54Z" fill="none" stroke="#000000" stroke-width="0.65"/><path d="M676.93 57.23L678.73 60.58L675.14 60.58Z" fill="none" stroke="#000000" stroke-width="0.65"/><path d="M678.58 57.27L680.38 60.62L676.79 60.62Z" fill="none" stroke="#000000" stroke-width="0.65"/><path d="M680.24 57.31L682.03 60.66L678.44 60.66Z" fill="none" stroke="#000000" stroke-width="0.65"/><path d="M681.89 57.35L683.68 60.70L680.10 60.70Z" fill="none" stroke="#000000" stroke-width="0.65"/><path d="M683.54 57.41L685.34 60.76L681.75 60.76Z" fill="none" stroke="#000000" stroke-width="0.65"/><path d="M685.20 57.47L686.99 60.82L683.40 60.82Z" fill="none" stroke="#000000" stroke-width="0.65"/><path d="M686.85 57.53L688.64 60.89L685.05 60.89Z" fill="none" stroke="#000000" stroke-width="0.65"/><path d="M688.50 57.59L690.30 60.94L686.71 60.94Z" fill="none" stroke="#000000" stroke-width="0.65"/><path d="M690.15 57.66L691.95 61.01L688.36 61.01Z" fill="none" stroke="#000000" stroke-width="0.65"/><path d="M691.81 57.71L693.60 61.07L690.01 61.07Z" fill="none" stroke="#000000" stroke-width="0.65"/><path d="M693.46 57.78L695.25 61.14L691.67 61.14Z" fill="none" stroke="#000000" stroke-width="0.65"/><path d="M695.11 57.84L696.91 61.20L693.32 61.20Z" fill="none" stroke="#000000" stroke-width="0.65"/><path d="M696.77 57.92L698.56 61.27L694.97 61.27Z" fill="none" stroke="#000000" stroke-width="0.65"/><path d="M698.42 57.97L700.21 61.33L696.63 61.33Z" fill="none" stroke="#000000" stroke-width="0.65"/><path d="M700.07 58.05L701.87 61.40L698.28 61.40Z" fill="none" stroke="#000000" stroke-width="0.65"/><path d="M701.73 58.11L703.52 61.46L699.93 61.46Z" fill="none" stroke="#000000" stroke-width="0.65"/><path d="M703.38 58.19L705.17 61.54L701.59 61.54Z" fill="none" stroke="#000000" stroke-width="0.65"/><path d="M705.03 58.25L706.83 61.60L703.24 61.60Z" fill="none" stroke="#000000" stroke-width="0.65"/><path d="M706.68 58.40L708.48 61.75L704.89 61.75Z" fill="none" stroke="#000000" stroke-width="0.65"/><path d="M708.34 58.52L710.13 61.87L706.54 61.87Z" fill="none" stroke="#000000" stroke-width="0.65"/><path d="M709.99 58.67L711.78 62.03L708.20 62.03Z" fill="none" stroke="#000000" stroke-width="0.65"/><path d="M711.64 58.79L713.44 62.15L709.85 62.15Z" fill="none" stroke="#000000" stroke-width="0.65"/><path d="M713.30 58.96L715.09 62.31L711.50 62.31Z" fill="none" stroke="#000000" stroke-width="0.65"/><path d="M714.95 59.08L716.74 62.44L713.16 62.44Z" fill="none" stroke="#000000" stroke-width="0.65"/><path d="M716.60 59.26L718.40 62.61L714.81 62.61Z" fill="none" stroke="#000000" stroke-width="0.65"/><path d="M718.26 59.39L720.05 62.74L716.46 62.74Z" fill="none" stroke="#000000" stroke-width="0.65"/><path d="M719.91 59.58L721.70 62.93L718.12 62.93Z" fill="none" stroke="#000000" stroke-width="0.65"/><path d="M721.56 59.71L723.36 63.06L719.77 63.06Z" fill="none" stroke="#000000" stroke-width="0.65"/><path d="M723.22 59.92L725.01 63.28L721.42 63.28Z" fill="none" stroke="#000000" stroke-width="0.65"/><path d="M724.87 60.06L726.66 63.41L723.07 63.41Z" fill="none" stroke="#000000" stroke-width="0.65"/><path d="M726.52 60.30L728.31 63.66L724.73 63.66Z" fill="none" stroke="#000000" stroke-width="0.65"/><path d="M728.17 60.46L729.97 63.81L726.38 63.81Z" fill="none" stroke="#000000" stroke-width="0.65"/><path d="M729.83 60.73L731.62 64.09L728.03 64.09Z" fill="none" stroke="#000000" stroke-width="0.65"/><path d="M731.48 60.90L733.27 64.25L729.69 64.25Z" fill="none" stroke="#000000" stroke-width="0.65"/><path d="M733.13 61.22L734.93 64.57L731.34 64.57Z" fill="none" stroke="#000000" stroke-width="0.65"/><path d="M734.79 61.39L736.58 64.75L732.99 64.75Z" fill="none" stroke="#000000" stroke-width="0.65"/><path d="M736.44 61.76L738.23 65.11L734.65 65.11Z" fill="none" stroke="#000000" stroke-width="0.65"/><path d="M738.09 61.95L739.89 65.31L736.30 65.31Z" fill="none" stroke="#000000" stroke-width="0.65"/><path d="M739.75 62.38L741.54 65.73L737.95 65.73Z" fill="none" stroke="#000000" stroke-width="0.65"/><path d="M741.40 62.60L743.19 65.95L739.60 65.95Z" fill="none" stroke="#000000" stroke-width="0.65"/><path d="M743.05 63.10L744.84 66.45L741.26 66.45Z" fill="none" stroke="#000000" stroke-width="0.65"/><path d="M744.70 63.35L746.50 66.70L742.91 66.70Z" fill="none" stroke="#000000" stroke-width="0.65"/><path d="M746.36 63.73L748.15 67.08L744.56 67.08Z" fill="none" stroke="#000000" stroke-width="0.65"/><path d="M748.01 63.79L749.80 67.15L746.22 67.15Z" fill="none" stroke="#000000" stroke-width="0.65"/><path d="M749.66 64.28L751.46 67.63L747.87 67.63Z" fill="none" stroke="#000000" stroke-width="0.65"/><path d="M751.32 64.39L753.11 67.75L749.52 67.75Z" fill="none" stroke="#000000" stroke-width="0.65"/><path d="M752.97 65.02L754.76 68.37L751.18 68.37Z" fill="none" stroke="#000000" stroke-width="0.65"/><path d="M754.62 65.18L756.42 68.54L752.83 68.54Z" fill="none" stroke="#000000" stroke-width="0.65"/><path d="M756.27 65.86L758.07 69.21L754.48 69.21Z" fill="none" stroke="#000000" stroke-width="0.65"/><path d="M757.93 65.97L759.72 69.33L756.13 69.33Z" fill="none" stroke="#000000" stroke-width="0.65"/><path d="M759.58 66.85L761.38 70.20L757.79 70.20Z" fill="none" stroke="#000000" stroke-width="0.65"/><path d="M761.23 67.04L763.03 70.39L759.44 70.39Z" fill="none" stroke="#000000" stroke-width="0.65"/><path d="M762.89 68.15L764.68 71.51L761.09 71.51Z" fill="none" stroke="#000000" stroke-width="0.65"/><path d="M764.54 68.42L766.33 71.78L762.75 71.78Z" fill="none" stroke="#000000" stroke-width="0.65"/><path d="M766.19 69.84L767.99 73.20L764.40 73.20Z" fill="none" stroke="#000000" stroke-width="0.65"/><path d="M767.85 70.21L769.64 73.57L766.05 73.57Z" fill="none" stroke="#000000" stroke-width="0.65"/><path d="M769.50 71.96L771.29 75.31L767.71 75.31Z" fill="none" stroke="#000000" stroke-width="0.65"/><path d="M771.15 72.40L772.95 75.75L769.36 75.75Z" fill="none" stroke="#000000" stroke-width="0.65"/><path d="M772.81 74.49L774.60 77.84L771.01 77.84Z" fill="none" stroke="#000000" stroke-width="0.65"/><path d="M774.46 74.95L776.25 78.30L772.66 78.30Z" fill="none" stroke="#000000" stroke-width="0.65"/><path d="M776.11 77.59L777.90 80.94L774.32 80.94Z" fill="none" stroke="#000000" stroke-width="0.65"/><path d="M777.76 78.15L779.56 81.50L775.97 81.50Z" fill="none" stroke="#000000" stroke-width="0.65"/><path d="M779.42 80.93L781.21 84.29L777.62 84.29Z" fill="none" stroke="#000000" stroke-width="0.65"/><path d="M781.07 82.61L782.86 85.97L779.28 85.97Z" fill="none" stroke="#000000" stroke-width="0.65"/><path d="M782.72 85.07L784.52 88.42L780.93 88.42Z" fill="none" stroke="#000000" stroke-width="0.65"/><path d="M784.38 88.93L786.17 92.28L782.58 92.28Z" fill="none" stroke="#000000" stroke-width="0.65"/><path d="M786.03 94.54L787.82 97.90L784.24 97.90Z" fill="none" stroke="#000000" stroke-width="0.65"/><path d="M787.68 95.60L789.48 98.95L785.89 98.95Z" fill="none" stroke="#000000" stroke-width="0.65"/><path d="M789.34 97.53L791.13 100.88L787.54 100.88Z" fill="none" stroke="#000000" stroke-width="0.65"/><path d="M790.99 104.20L792.78 107.55L789.19 107.55Z" fill="none" stroke="#000000" stroke-width="0.65"/><path d="M792.64 122.10L794.44 125.45L790.85 125.45Z" fill="none" stroke="#000000" stroke-width="0.65"/><path d="M794.29 154.57L796.09 157.92L792.50 157.92Z" fill="none" stroke="#000000" stroke-width="0.65"/><path d="M795.95 177.38L797.74 180.73L794.15 180.73Z" fill="none" stroke="#000000" stroke-width="0.65"/></g>
<g><circle cx="468.65" cy="179.33" r="2.3" fill="none" stroke="#46006e" stroke-width="0.65"/><circle cx="470.31" cy="148.62" r="2.3" fill="none" stroke="#46006e" stroke-width="0.65"/><circle cx="471.96" cy="110.71" r="2.3" fill="none" stroke="#46006e" stroke-width="0.65"/><circle cx="473.61" cy="101.41" r="2.3" fill="none" stroke="#46006e" stroke-width="0.65"/><circle cx="475.26" cy="97.20" r="2.3" fill="none" stroke="#46006e" stroke-width="0.65"/><circle cx="476.92" cy="93.34" r="2.3" fill="none" stroke="#46006e" stroke-width="0.65"/><circle cx="478.57" cy="86.32" r="2.3" fill="none" stroke="#46006e" stroke-width="0.65"/><circle cx="480.22" cy="82.63" r="2.3" fill="none" stroke="#46006e" stroke-width="0.65"/><circle cx="481.88" cy="79.47" r="2.3" fill="none" stroke="#46006e" stroke-width="0.65"/><circle cx="483.53" cy="76.31" r="2.3" fill="none" stroke="#46006e" stroke-width="0.65"/><circle cx="485.18" cy="73.70" r="2.3" fill="none" stroke="#46006e" stroke-width="0.65"/><circle cx="486.84" cy="71.13" r="2.3" fill="none" stroke="#46006e" stroke-width="0.65"/><circle cx="488.49" cy="68.78" r="2.3" fill="none" stroke="#46006e" stroke-width="0.65"/><circle cx="490.14" cy="66.63" r="2.3" fill="none" stroke="#46006e" stroke-width="0.65"/><circle cx="491.80" cy="64.65" r="2.3" fill="none" stroke="#46006e" stroke-width="0.65"/><circle cx="493.45" cy="62.81" r="2.3" fill="none" stroke="#46006e" stroke-width="0.65"/><circle cx="495.10" cy="61.10" r="2.3" fill="none" stroke="#46006e" stroke-width="0.65"/><circle cx="496.75" cy="59.51" r="2.3" fill="none" stroke="#46006e" stroke-width="0.65"/><circle cx="498.41" cy="58.01" r="2.3" fill="none" stroke="#46006e" stroke-width="0.65"/><circle cx="500.06" cy="56.60" r="2.3" fill="none" stroke="#46006e" stroke-width="0.65"/><circle cx="501.71" cy="55.28" r="2.3" fill="none" stroke="#46006e" stroke-width="0.65"/><circle cx="503.37" cy="54.02" r="2.3" fill="none" stroke="#46006e" stroke-width="0.65"/><circle cx="505.02" cy="52.84" r="2.3" fill="none" stroke="#46006e" stroke-width="0.65"/><circle cx="506.67" cy="51.71" r="2.3" fill="none" stroke="#46006e" stroke-width="0.65"/><circle cx="508.32" cy="50.64" r="2.3" fill="none" stroke="#46006e" stroke-width="0.65"/><circle cx="509.98" cy="49.62" r="2.3" fill="none" stroke="#46006e" stroke-width="0.65"/><circle cx="511.63" cy="48.65" r="2.3" fill="none" stroke="#46006e" stroke-width="0.65"/><circle cx="513.28" cy="47.72" r="2.3" fill="none" stroke="#46006e" stroke-width="0.65"/><circle cx="514.94" cy="46.83" r="2.3" fill="none" stroke="#46006e" stroke-width="0.65"/><circle cx="516.59" cy="45.98" r="2.3" fill="none" stroke="#46006e" stroke-width="0.65"/><circle cx="518.24" cy="45.16" r="2.3" fill="none" stroke="#46006e" stroke-width="0.65"/><circle cx="519.90" cy="44.38" r="2.3" fill="none" stroke="#46006e" stroke-width="0.65"/><circle cx="521.55" cy="43.61" r="2.3" fill="none" stroke="#46006e" stroke-width="0.65"/><circle cx="523.20" cy="42.88" r="2.3" fill="none" stroke="#46006e" stroke-width="0.65"/><circle cx="524.86" cy="42.17" r="2.3" fill="none" stroke="#46006e" stroke-width="0.65"/><circle cx="526.51" cy="41.49" r="2.3" fill="none" stroke="#46006e" stroke-width="0.65"/><circle cx="528.16" cy="40.84" r="2.3" fill="none" stroke="#46006e" stroke-width="0.65"/><circle cx="529.81" cy="40.20" r="2.3" fill="none" stroke="#46006e" stroke-width="0.65"/><circle cx="531.47" cy="39.59" r="2.3" fill="none" stroke="#46006e" stroke-width="0.65"/><circle cx="533.12" cy="39.00" r="2.3" fill="none" stroke="#46006e" stroke-width="0.65"/><circle cx="534.77" cy="38.40" r="2.3" fill="none" stroke="#46006e" stroke-width="0.65"/><circle cx="536.43" cy="37.81" r="2.3" fill="none" stroke="#46006e" stroke-width="0.65"/><circle cx="538.08" cy="37.24" r="2.3" fill="none" stroke="#46006e" stroke-width="0.65"/><circle cx="539.73" cy="36.69" r="2.3" fill="none" stroke="#46006e" stroke-width="0.65"/><circle cx="541.38" cy="36.16" r="2.3" fill="none" stroke="#46006e" stroke-width="0.65"/><circle cx="543.04" cy="35.64" r="2.3" fill="none" stroke="#46006e" stroke-width="0.65"/><circle cx="544.69" cy="35.14" r="2.3" fill="none" stroke="#46006e" stroke-width="0.65"/><circle cx="546.34" cy="34.65" r="2.3" fill="none" stroke="#46006e" stroke-width="0.65"/><circle cx="548.00" cy="34.18" r="2.3" fill="none" stroke="#46006e" stroke-width="0.65"/><circle cx="549.65" cy="33.72" r="2.3" fill="none" stroke="#46006e" stroke-width="0.65"/><circle cx="551.30" cy="33.27" r="2.3" fill="none" stroke="#46006e" stroke-width="0.65"/><circle cx="552.96" cy="32.84" r="2.3" fill="none" stroke="#46006e" stroke-width="0.65"/><circle cx="554.61" cy="32.42" r="2.3" fill="none" stroke="#46006e" stroke-width="0.65"/><circle cx="556.26" cy="32.01" r="2.3" fill="none" stroke="#46006e" stroke-width="0.65"/><circle cx="557.91" cy="31.62" r="2.3" fill="none" stroke="#46006e" stroke-width="0.65"/><circle cx="559.57" cy="31.23" r="2.3" fill="none" stroke="#46006e" stroke-width="0.65"/><circle cx="561.22" cy="30.89" r="2.3" fill="none" stroke="#46006e" stroke-width="0.65"/><circle cx="562.87" cy="30.57" r="2.3" fill="none" stroke="#46006e" stroke-width="0.65"/><circle cx="564.53" cy="30.25" r="2.3" fill="none" stroke="#46006e" stroke-width="0.65"/><circle cx="566.18" cy="29.94" r="2.3" fill="none" stroke="#46006e" stroke-width="0.65"/><circle cx="567.83" cy="29.65" r="2.3" fill="none" stroke="#46006e" stroke-width="0.65"/><circle cx="569.49" cy="29.36" r="2.3" fill="none" stroke="#46006e" stroke-width="0.65"/><circle cx="571.14" cy="29.08" r="2.3" fill="none" stroke="#46006e" stroke-width="0.65"/><circle cx="572.79" cy="28.81" r="2.3" fill="none" stroke="#46006e" stroke-width="0.65"/><circle cx="574.45" cy="28.55" r="2.3" fill="none" stroke="#46006e" stroke-width="0.65"/><circle cx="576.10" cy="28.30" r="2.3" fill="none" stroke="#46006e" stroke-width="0.65"/><circle cx="577.75" cy="28.06" r="2.3" fill="none" stroke="#46006e" stroke-width="0.65"/><circle cx="579.40" cy="27.83" r="2.3" fill="none" stroke="#46006e" stroke-width="0.65"/><circle cx="581.06" cy="27.60" r="2.3" fill="none" stroke="#46006e" stroke-width="0.65"/><circle cx="582.71" cy="27.38" r="2.3" fill="none" stroke="#46006e" stroke-width="0.65"/><circle cx="584.36" cy="27.19" r="2.3" fill="none" stroke="#46006e" stroke-width="0.65"/><circle cx="586.02" cy="27.00" r="2.3" fill="none" stroke="#46006e" stroke-width="0.65"/><circle cx="587.67" cy="26.82" r="2.3" fill="none" stroke="#46006e" stroke-width="0.65"/><circle cx="589.32" cy="26.65" r="2.3" fill="none" stroke="#46006e" stroke-width="0.65"/><circle cx="590.98" cy="26.48" r="2.3" fill="none" stroke="#46006e" stroke-width="0.65"/><circle cx="592.63" cy="26.33" r="2.3" fill="none" stroke="#46006e" stroke-width="0.65"/><circle cx="594.28" cy="26.18" r="2.3" fill="none" stroke="#46006e" stroke-width="0.65"/><circle cx="595.93" cy="26.03" r="2.3" fill="none" stroke="#46006e" stroke-width="0.65"/><circle cx="597.59" cy="25.90" r="2.3" fill="none" stroke="#46006e" stroke-width="0.65"/><circle cx="599.24" cy="25.77" r="2.3" fill="none" stroke="#46006e" stroke-width="0.65"/><circle cx="600.89" cy="25.65" r="2.3" fill="none" stroke="#46006e" stroke-width="0.65"/><circle cx="602.55" cy="25.54" r="2.3" fill="none" stroke="#46006e" stroke-width="0.65"/><circle cx="604.20" cy="25.44" r="2.3" fill="none" stroke="#46006e" stroke-width="0.65"/><circle cx="605.85" cy="25.35" r="2.3" fill="none" stroke="#46006e" stroke-width="0.65"/><circle cx="607.50" cy="25.26" r="2.3" fill="none" stroke="#46006e" stroke-width="0.65"/><circle cx="609.16" cy="25.18" r="2.3" fill="none" stroke="#46006e" stroke-width="0.65"/><circle cx="610.81" cy="25.10" r="2.3" fill="none" stroke="#46006e" stroke-width="0.65"/><circle cx="612.46" cy="25.03" r="2.3" fill="none" stroke="#46006e" stroke-width="0.65"/><circle cx="614.12" cy="24.97" r="2.3" fill="none" stroke="#46006e" stroke-width="0.65"/><circle cx="615.77" cy="24.91" r="2.3" fill="none" stroke="#46006e" stroke-width="0.65"/><circle cx="617.42" cy="24.86" r="2.3" fill="none" stroke="#46006e" stroke-width="0.65"/><circle cx="619.08" cy="24.82" r="2.3" fill="none" stroke="#46006e" stroke-width="0.65"/><circle cx="620.73" cy="24.78" r="2.3" fill="none" stroke="#46006e" stroke-width="0.65"/><circle cx="622.38" cy="24.75" r="2.3" fill="none" stroke="#46006e" stroke-width="0.65"/><circle cx="624.03" cy="24.72" r="2.3" fill="none" stroke="#46006e" stroke-width="0.65"/><circle cx="625.69" cy="24.70" r="2.3" fill="none" stroke="#46006e" stroke-width="0.65"/><circle cx="627.34" cy="24.69" r="2.3" fill="none" stroke="#46006e" stroke-width="0.65"/><circle cx="628.99" cy="24.68" r="2.3" fill="none" stroke="#46006e" stroke-width="0.65"/><circle cx="630.65" cy="24.68" r="2.3" fill="none" stroke="#46006e" stroke-width="0.65"/><circle cx="632.30" cy="24.68" r="2.3" fill="none" stroke="#46006e" stroke-width="0.65"/><circle cx="633.95" cy="24.68" r="2.3" fill="none" stroke="#46006e" stroke-width="0.65"/><circle cx="635.61" cy="24.68" r="2.3" fill="none" stroke="#46006e" stroke-width="0.65"/><circle cx="637.26" cy="24.69" r="2.3" fill="none" stroke="#46006e" stroke-width="0.65"/><circle cx="638.91" cy="24.70" r="2.3" fill="none" stroke="#46006e" stroke-width="0.65"/><circle cx="640.57" cy="24.72" r="2.3" fill="none" stroke="#46006e" stroke-width="0.65"/><circle cx="642.22" cy="24.75" r="2.3" fill="none" stroke="#46006e" stroke-width="0.65"/><circle cx="643.87" cy="24.78" r="2.3" fill="none" stroke="#46006e" stroke-width="0.65"/><circle cx="645.52" cy="24.82" r="2.3" fill="none" stroke="#46006e" stroke-width="0.65"/><circle cx="647.18" cy="24.86" r="2.3" fill="none" stroke="#46006e" stroke-width="0.65"/><circle cx="648.83" cy="24.91" r="2.3" fill="none" stroke="#46006e" stroke-width="0.65"/><circle cx="650.48" cy="24.97" r="2.3" fill="none" stroke="#46006e" stroke-width="0.65"/><circle cx="652.14" cy="25.03" r="2.3" fill="none" stroke="#46006e" stroke-width="0.65"/><circle cx="653.79" cy="25.10" r="2.3" fill="none" stroke="#46006e" stroke-width="0.65"/><circle cx="655.44" cy="25.18" r="2.3" fill="none" stroke="#46006e" stroke-width="0.65"/><circle cx="657.10" cy="25.26" r="2.3" fill="none" stroke="#46006e" stroke-width="0.65"/><circle cx="658.75" cy="25.35" r="2.3" fill="none" stroke="#46006e" stroke-width="0.65"/><circle cx="660.40" cy="25.44" r="2.3" fill="none" stroke="#46006e" stroke-width="0.65"/><circle cx="662.05" cy="25.54" r="2.3" fill="none" stroke="#46006e" stroke-width="0.65"/><circle cx="663.71" cy="25.65" r="2.3" fill="none" stroke="#46006e" stroke-width="0.65"/><circle cx="665.36" cy="25.77" r="2.3" fill="none" stroke="#46006e" stroke-width="0.65"/><circle cx="667.01" cy="25.90" r="2.3" fill="none" stroke="#46006e" stroke-width="0.65"/><circle cx="668.67" cy="26.03" r="2.3" fill="none" stroke="#46006e" stroke-width="0.65"/><circle cx="670.32" cy="26.18" r="2.3" fill="none" stroke="#46006e" stroke-width="0.65"/><circle cx="671.97" cy="26.33" r="2.3" fill="none" stroke="#46006e" stroke-width="0.65"/><circle cx="673.62" cy="26.48" r="2.3" fill="none" stroke="#46006e" stroke-width="0.65"/><circle cx="675.28" cy="26.65" r="2.3" fill="none" stroke="#46006e" stroke-width="0.65"/><circle cx="676.93" cy="26.82" r="2.3" fill="none" stroke="#46006e" stroke-width="0.65"/><circle cx="678.58" cy="27.00" r="2.3" fill="none" stroke="#46006e" stroke-width="0.65"/><circle cx="680.24" cy="27.19" r="2.3" fill="none" stroke="#46006e" stroke-width="0.65"/><circle cx="681.89" cy="27.38" r="2.3" fill="none" stroke="#46006e" stroke-width="0.65"/><circle cx="683.54" cy="27.60" r="2.3" fill="none" stroke="#46006e" stroke-width="0.65"/><circle cx="685.20" cy="27.83" r="2.3" fill="none" stroke="#46006e" stroke-width="0.65"/><circle cx="686.85" cy="28.06" r="2.3" fill="none" stroke="#46006e" stroke-width="0.65"/><circle cx="688.50" cy="28.30" r="2.3" fill="none" stroke="#46006e" stroke-width="0.65"/><circle cx="690.15" cy="28.55" r="2.3" fill="none" stroke="#46006e" stroke-width="0.65"/><circle cx="691.81" cy="28.81" r="2.3" fill="none" stroke="#46006e" stroke-width="0.65"/><circle cx="693.46" cy="29.08" r="2.3" fill="none" stroke="#46006e" stroke-width="0.65"/><circle cx="695.11" cy="29.36" r="2.3" fill="none" stroke="#46006e" stroke-width="0.65"/><circle cx="696.77" cy="29.65" r="2.3" fill="none" stroke="#46006e" stroke-width="0.65"/><circle cx="698.42" cy="29.94" r="2.3" fill="none" stroke="#46006e" stroke-width="0.65"/><circle cx="700.07" cy="30.25" r="2.3" fill="none" stroke="#46006e" stroke-width="0.65"/><circle cx="701.73" cy="30.57" r="2.3" fill="none" stroke="#46006e" stroke-width="0.65"/><circle cx="703.38" cy="30.89" r="2.3" fill="none" stroke="#46006e" stroke-width="0.65"/><circle cx="705.03" cy="31.23" r="2.3" fill="none" stroke="#46006e" stroke-width="0.65"/><circle cx="706.68" cy="31.62" r="2.3" fill="none" stroke="#46006e" stroke-width="0.65"/><circle cx="708.34" cy="32.01" r="2.3" fill="none" stroke="#46006e" stroke-width="0.65"/><circle cx="709.99" cy="32.42" r="2.3" fill="none" stroke="#46006e" stroke-width="0.65"/><circle cx="711.64" cy="32.84" r="2.3" fill="none" stroke="#46006e" stroke-width="0.65"/><circle cx="713.30" cy="33.27" r="2.3" fill="none" stroke="#46006e" stroke-width="0.65"/><circle cx="714.95" cy="33.72" r="2.3" fill="none" stroke="#46006e" stroke-width="0.65"/><circle cx="716.60" cy="34.18" r="2.3" fill="none" stroke="#46006e" stroke-width="0.65"/><circle cx="718.26" cy="34.65" r="2.3" fill="none" stroke="#46006e" stroke-width="0.65"/><circle cx="719.91" cy="35.14" r="2.3" fill="none" stroke="#46006e" stroke-width="0.65"/><circle cx="721.56" cy="35.64" r="2.3" fill="none" stroke="#46006e" stroke-width="0.65"/><circle cx="723.22" cy="36.16" r="2.3" fill="none" stroke="#46006e" stroke-width="0.65"/><circle cx="724.87" cy="36.69" r="2.3" fill="none" stroke="#46006e" stroke-width="0.65"/><circle cx="726.52" cy="37.24" r="2.3" fill="none" stroke="#46006e" stroke-width="0.65"/><circle cx="728.17" cy="37.81" r="2.3" fill="none" stroke="#46006e" stroke-width="0.65"/><circle cx="729.83" cy="38.40" r="2.3" fill="none" stroke="#46006e" stroke-width="0.65"/><circle cx="731.48" cy="39.00" r="2.3" fill="none" stroke="#46006e" stroke-width="0.65"/><circle cx="733.13" cy="39.59" r="2.3" fill="none" stroke="#46006e" stroke-width="0.65"/><circle cx="734.79" cy="40.20" r="2.3" fill="none" stroke="#46006e" stroke-width="0.65"/><circle cx="736.44" cy="40.84" r="2.3" fill="none" stroke="#46006e" stroke-width="0.65"/><circle cx="738.09" cy="41.49" r="2.3" fill="none" stroke="#46006e" stroke-width="0.65"/><circle cx="739.75" cy="42.17" r="2.3" fill="none" stroke="#46006e" stroke-width="0.65"/><circle cx="741.40" cy="42.88" r="2.3" fill="none" stroke="#46006e" stroke-width="0.65"/><circle cx="743.05" cy="43.61" r="2.3" fill="none" stroke="#46006e" stroke-width="0.65"/><circle cx="744.70" cy="44.38" r="2.3" fill="none" stroke="#46006e" stroke-width="0.65"/><circle cx="746.36" cy="45.16" r="2.3" fill="none" stroke="#46006e" stroke-width="0.65"/><circle cx="748.01" cy="45.98" r="2.3" fill="none" stroke="#46006e" stroke-width="0.65"/><circle cx="749.66" cy="46.83" r="2.3" fill="none" stroke="#46006e" stroke-width="0.65"/><circle cx="751.32" cy="47.72" r="2.3" fill="none" stroke="#46006e" stroke-width="0.65"/><circle cx="752.97" cy="48.65" r="2.3" fill="none" stroke="#46006e" stroke-width="0.65"/><circle cx="754.62" cy="49.62" r="2.3" fill="none" stroke="#46006e" stroke-width="0.65"/><circle cx="756.27" cy="50.64" r="2.3" fill="none" stroke="#46006e" stroke-width="0.65"/><circle cx="757.93" cy="51.71" r="2.3" fill="none" stroke="#46006e" stroke-width="0.65"/><circle cx="759.58" cy="52.84" r="2.3" fill="none" stroke="#46006e" stroke-width="0.65"/><circle cx="761.23" cy="54.02" r="2.3" fill="none" stroke="#46006e" stroke-width="0.65"/><circle cx="762.89" cy="55.28" r="2.3" fill="none" stroke="#46006e" stroke-width="0.65"/><circle cx="764.54" cy="56.60" r="2.3" fill="none" stroke="#46006e" stroke-width="0.65"/><circle cx="766.19" cy="58.01" r="2.3" fill="none" stroke="#46006e" stroke-width="0.65"/><circle cx="767.85" cy="59.51" r="2.3" fill="none" stroke="#46006e" stroke-width="0.65"/><circle cx="769.50" cy="61.10" r="2.3" fill="none" stroke="#46006e" stroke-width="0.65"/><circle cx="771.15" cy="62.81" r="2.3" fill="none" stroke="#46006e" stroke-width="0.65"/><circle cx="772.81" cy="64.65" r="2.3" fill="none" stroke="#46006e" stroke-width="0.65"/><circle cx="774.46" cy="66.63" r="2.3" fill="none" stroke="#46006e" stroke-width="0.65"/><circle cx="776.11" cy="68.78" r="2.3" fill="none" stroke="#46006e" stroke-width="0.65"/><circle cx="777.76" cy="71.13" r="2.3" fill="none" stroke="#46006e" stroke-width="0.65"/><circle cx="779.42" cy="73.70" r="2.3" fill="none" stroke="#46006e" stroke-width="0.65"/><circle cx="781.07" cy="76.31" r="2.3" fill="none" stroke="#46006e" stroke-width="0.65"/><circle cx="782.72" cy="79.47" r="2.3" fill="none" stroke="#46006e" stroke-width="0.65"/><circle cx="784.38" cy="82.63" r="2.3" fill="none" stroke="#46006e" stroke-width="0.65"/><circle cx="786.03" cy="86.32" r="2.3" fill="none" stroke="#46006e" stroke-width="0.65"/><circle cx="787.68" cy="93.34" r="2.3" fill="none" stroke="#46006e" stroke-width="0.65"/><circle cx="789.34" cy="97.20" r="2.3" fill="none" stroke="#46006e" stroke-width="0.65"/><circle cx="790.99" cy="101.41" r="2.3" fill="none" stroke="#46006e" stroke-width="0.65"/><circle cx="792.64" cy="110.71" r="2.3" fill="none" stroke="#46006e" stroke-width="0.65"/><circle cx="794.29" cy="148.62" r="2.3" fill="none" stroke="#46006e" stroke-width="0.65"/><circle cx="795.95" cy="179.33" r="2.3" fill="none" stroke="#46006e" stroke-width="0.65"/></g>
<rect x="566.0" y="134.9" width="148.79999999999995" height="42.29999999999998" fill="#fff" stroke="#5a5a5a" stroke-width="1"/>
<path d="M571.85 144.25L573.64 147.60L570.06 147.60Z" fill="none" stroke="#000000" stroke-width="0.65"/>
<text transform="translate(576.01,152.40) scale(1.0000,1)" font-size="19" style="font-style:italic">h</text>
<path d="M592.00 146.00h10.0M592.00 149.50h10.0" fill="none" stroke="#000" stroke-width="1.15"/>
<text transform="translate(607.17,152.40) scale(1.0093,1)" font-size="19" style="">0.80</text>
<text transform="translate(639.48,152.40) scale(1.1000,1)" font-size="19" style="">(</text>
<text transform="translate(647.22,152.40) scale(1.0000,1)" font-size="19" style="font-style:italic">c</text>
<path d="M662.40 146.40c1.6 -2.2 3.4 -2.2 5.2 -1.0s3.6 1.2 5.50 -1.2" fill="none" stroke="#000" stroke-width="1.2"/>
<path d="M662.40 149.90h10.7" fill="none" stroke="#000" stroke-width="1.15"/>
<text transform="translate(678.59,152.40) scale(0.9872,1)" font-size="19" style="">0.5</text>
<text transform="translate(702.24,152.40) scale(1.0800,1)" font-size="19" style="">)</text>
<circle cx="571.85" cy="165.80" r="2.3" fill="none" stroke="#46006e" stroke-width="0.65"/>
<text transform="translate(576.01,171.50) scale(1.0000,1)" font-size="19" style="font-style:italic">h</text>
<path d="M592.00 165.10h10.0M592.00 168.60h10.0" fill="none" stroke="#000" stroke-width="1.15"/>
<text transform="translate(607.17,171.50) scale(1.0099,1)" font-size="19" style="">0.85</text>
<text transform="translate(639.48,171.50) scale(1.1000,1)" font-size="19" style="">(</text>
<text transform="translate(647.22,171.50) scale(1.0000,1)" font-size="19" style="font-style:italic">c</text>
<path d="M662.40 165.50c1.6 -2.2 3.4 -2.2 5.2 -1.0s3.6 1.2 5.50 -1.2" fill="none" stroke="#000" stroke-width="1.2"/>
<path d="M662.40 169.00h10.7" fill="none" stroke="#000" stroke-width="1.15"/>
<text transform="translate(678.55,171.50) scale(0.9880,1)" font-size="19" style="">1.0</text>
<text transform="translate(702.24,171.50) scale(1.0800,1)" font-size="19" style="">)</text>
<line x1="57.40" y1="413.90" x2="57.40" y2="409.40" stroke="#a8a8a8" stroke-width="0.6"/>
<line x1="90.41" y1="413.90" x2="90.41" y2="409.40" stroke="#a8a8a8" stroke-width="0.6"/>
<line x1="123.42" y1="413.90" x2="123.42" y2="409.40" stroke="#a8a8a8" stroke-width="0.6"/>
<line x1="156.43" y1="413.90" x2="156.43" y2="409.40" stroke="#a8a8a8" stroke-width="0.6"/>
<line x1="189.44" y1="413.90" x2="189.44" y2="409.40" stroke="#a8a8a8" stroke-width="0.6"/>
<line x1="222.45" y1="413.90" x2="222.45" y2="409.40" stroke="#a8a8a8" stroke-width="0.6"/>
<line x1="255.46" y1="413.90" x2="255.46" y2="409.40" stroke="#a8a8a8" stroke-width="0.6"/>
<line x1="288.47" y1="413.90" x2="288.47" y2="409.40" stroke="#a8a8a8" stroke-width="0.6"/>
<line x1="321.48" y1="413.90" x2="321.48" y2="409.40" stroke="#a8a8a8" stroke-width="0.6"/>
<line x1="354.49" y1="413.90" x2="354.49" y2="409.40" stroke="#a8a8a8" stroke-width="0.6"/>
<line x1="387.50" y1="413.90" x2="387.50" y2="409.40" stroke="#a8a8a8" stroke-width="0.6"/>
<line x1="57.40" y1="414.10" x2="61.90" y2="414.10" stroke="#a8a8a8" stroke-width="0.6"/>
<line x1="57.40" y1="368.20" x2="61.90" y2="368.20" stroke="#a8a8a8" stroke-width="0.6"/>
<line x1="57.40" y1="322.30" x2="61.90" y2="322.30" stroke="#a8a8a8" stroke-width="0.6"/>
<line x1="57.40" y1="276.40" x2="61.90" y2="276.40" stroke="#a8a8a8" stroke-width="0.6"/>
<rect x="57.40" y="235.50" width="330.10" height="178.40" fill="none" stroke="#5a5a5a" stroke-width="1"/>
<text x="57.40" y="430.60" font-size="19" text-anchor="middle"  style="">0</text>
<text x="90.41" y="430.60" font-size="19" text-anchor="middle"  style="">20</text>
<text x="123.42" y="430.60" font-size="19" text-anchor="middle"  style="">40</text>
<text x="156.43" y="430.60" font-size="19" text-anchor="middle"  style="">60</text>
<text x="189.44" y="430.60" font-size="19" text-anchor="middle"  style="">80</text>
<text x="222.45" y="430.60" font-size="19" text-anchor="middle"  style="">100</text>
<text x="255.46" y="430.60" font-size="19" text-anchor="middle"  style="">120</text>
<text x="288.47" y="430.60" font-size="19" text-anchor="middle"  style="">140</text>
<text x="321.48" y="430.60" font-size="19" text-anchor="middle"  style="">160</text>
<text x="354.49" y="430.60" font-size="19" text-anchor="middle"  style="">180</text>
<text x="387.50" y="430.60" font-size="19" text-anchor="middle"  style="">200</text>
<text x="53.20" y="420.35" font-size="19" text-anchor="end"  style="">0.8</text>
<text x="53.20" y="374.45" font-size="19" text-anchor="end"  style="">1.0</text>
<text x="53.20" y="328.55" font-size="19" text-anchor="end"  style="">1.2</text>
<text x="53.20" y="282.65" font-size="19" text-anchor="end"  style="">1.4</text>
<text x="222.45" y="446.70" font-size="19" text-anchor="middle"  style="font-style:italic">n</text>
<text transform="translate(26.2,324.70) rotate(-90)" font-size="19" text-anchor="middle" style="font-style:italic;letter-spacing:0.6px">EE</text>
<text transform="translate(61.98,253.20) scale(0.9785,1)" font-size="19" style="">(c)</text>
<polyline points="75.56,317.71 77.21,314.54 78.86,311.63 80.51,308.94 82.16,306.44 83.81,304.11 85.46,301.93 87.11,299.88 88.76,297.94 90.41,296.11 92.06,294.38 93.71,292.73 95.36,291.16 97.01,289.66 98.66,288.23 100.31,286.87 101.96,285.56 103.61,284.30 105.26,283.10 106.91,281.94 108.57,280.83 110.22,279.75 111.87,278.72 113.52,277.72 115.17,276.76 116.82,275.84 118.47,274.94 120.12,274.07 121.77,273.24 123.42,272.43 125.07,271.64 126.72,270.89 128.37,270.15 130.02,269.44 131.67,268.75 133.32,268.09 134.97,267.44 136.62,266.81 138.27,266.21 139.93,265.62 141.58,265.05 143.23,264.50 144.88,263.96 146.53,263.44 148.18,262.94 149.83,262.46 151.48,261.98 153.13,261.53 154.78,261.09 156.43,260.66 158.08,260.25 159.73,259.85 161.38,259.46 163.03,259.09 164.68,258.73 166.33,258.38 167.98,258.04 169.63,257.72 171.28,257.40 172.94,257.10 174.59,256.81 176.24,256.54 177.89,256.27 179.54,256.01 181.19,255.77 182.84,255.54 184.49,255.31 186.14,255.10 187.79,254.89 189.44,254.70 191.09,254.52 192.74,254.35 194.39,254.18 196.04,254.03 197.69,253.89 199.34,253.75 200.99,253.63 202.64,253.51 204.29,253.41 205.95,253.31 207.60,253.22 209.25,253.14 210.90,253.08 212.55,253.02 214.20,252.97 215.85,252.93 217.50,252.89 219.15,252.87 220.80,252.86 222.45,252.85 224.10,252.86 225.75,252.87 227.40,252.89 229.05,252.93 230.70,252.97 232.35,253.02 234.00,253.08 235.65,253.14 237.30,253.22 238.96,253.31 240.61,253.41 242.26,253.51 243.91,253.63 245.56,253.75 247.21,253.89 248.86,254.03 250.51,254.18 252.16,254.35 253.81,254.52 255.46,254.70 257.11,254.89 258.76,255.10 260.41,255.31 262.06,255.54 263.71,255.77 265.36,256.01 267.01,256.27 268.66,256.54 270.31,256.81 271.96,257.10 273.62,257.40 275.27,257.72 276.92,258.04 278.57,258.38 280.22,258.73 281.87,259.09 283.52,259.46 285.17,259.85 286.82,260.25 288.47,260.66 290.12,261.09 291.77,261.53 293.42,261.98 295.07,262.46 296.72,262.94 298.37,263.44 300.02,263.96 301.67,264.50 303.32,265.05 304.98,265.62 306.63,266.21 308.28,266.81 309.93,267.44 311.58,268.09 313.23,268.75 314.88,269.44 316.53,270.15 318.18,270.89 319.83,271.64 321.48,272.43 323.13,273.24 324.78,274.07 326.43,274.94 328.08,275.84 329.73,276.76 331.38,277.72 333.03,278.72 334.68,279.75 336.33,280.83 337.99,281.94 339.64,283.10 341.29,284.30 342.94,285.56 344.59,286.87 346.24,288.23 347.89,289.66 349.54,291.16 351.19,292.73 352.84,294.38 354.49,296.11 356.14,297.94 357.79,299.88 359.44,301.93 361.09,304.11 362.74,306.44 364.39,308.94 366.04,311.63 367.69,314.54 369.34,317.71 371.00,321.19" fill="none" stroke="#ff0000" stroke-width="1.8" stroke-linejoin="round"/>
<g><path d="M59.05 401.36L60.84 404.72L57.26 404.72Z" fill="none" stroke="#000000" stroke-width="0.65"/><path d="M60.70 401.36L62.49 404.72L58.91 404.72Z" fill="none" stroke="#000000" stroke-width="0.65"/><path d="M62.35 401.36L64.15 404.72L60.56 404.72Z" fill="none" stroke="#000000" stroke-width="0.65"/><path d="M64.00 401.82L65.80 405.18L62.21 405.18Z" fill="none" stroke="#000000" stroke-width="0.65"/><path d="M65.65 395.05L67.45 398.41L63.86 398.41Z" fill="none" stroke="#000000" stroke-width="0.65"/><path d="M67.30 388.05L69.10 391.41L65.51 391.41Z" fill="none" stroke="#000000" stroke-width="0.65"/><path d="M68.95 381.63L70.75 384.98L67.16 384.98Z" fill="none" stroke="#000000" stroke-width="0.65"/><path d="M70.60 371.53L72.40 374.88L68.81 374.88Z" fill="none" stroke="#000000" stroke-width="0.65"/><path d="M72.25 363.50L74.05 366.85L70.46 366.85Z" fill="none" stroke="#000000" stroke-width="0.65"/><path d="M73.91 351.33L75.70 354.69L72.11 354.69Z" fill="none" stroke="#000000" stroke-width="0.65"/><path d="M75.56 342.61L77.35 345.97L73.76 345.97Z" fill="none" stroke="#000000" stroke-width="0.65"/><path d="M77.21 330.68L79.00 334.03L75.41 334.03Z" fill="none" stroke="#000000" stroke-width="0.65"/><path d="M78.86 323.10L80.65 326.46L77.06 326.46Z" fill="none" stroke="#000000" stroke-width="0.65"/><path d="M80.51 312.78L82.30 316.13L78.71 316.13Z" fill="none" stroke="#000000" stroke-width="0.65"/><path d="M82.16 305.20L83.95 308.56L80.36 308.56Z" fill="none" stroke="#000000" stroke-width="0.65"/><path d="M83.81 298.55L85.60 301.90L82.01 301.90Z" fill="none" stroke="#000000" stroke-width="0.65"/><path d="M85.46 293.04L87.25 296.39L83.66 296.39Z" fill="none" stroke="#000000" stroke-width="0.65"/><path d="M87.11 288.91L88.90 292.26L85.32 292.26Z" fill="none" stroke="#000000" stroke-width="0.65"/><path d="M88.76 285.92L90.55 289.28L86.97 289.28Z" fill="none" stroke="#000000" stroke-width="0.65"/><path d="M90.41 284.55L92.20 287.90L88.62 287.90Z" fill="none" stroke="#000000" stroke-width="0.65"/><path d="M92.06 284.20L93.85 287.56L90.27 287.56Z" fill="none" stroke="#000000" stroke-width="0.65"/><path d="M93.71 284.32L95.50 287.67L91.92 287.67Z" fill="none" stroke="#000000" stroke-width="0.65"/><path d="M95.36 285.47L97.16 288.82L93.57 288.82Z" fill="none" stroke="#000000" stroke-width="0.65"/><path d="M97.01 287.30L98.81 290.66L95.22 290.66Z" fill="none" stroke="#000000" stroke-width="0.65"/><path d="M98.66 289.14L100.46 292.49L96.87 292.49Z" fill="none" stroke="#000000" stroke-width="0.65"/><path d="M100.31 290.06L102.11 293.41L98.52 293.41Z" fill="none" stroke="#000000" stroke-width="0.65"/><path d="M101.96 290.51L103.76 293.87L100.17 293.87Z" fill="none" stroke="#000000" stroke-width="0.65"/><path d="M103.61 290.74L105.41 294.10L101.82 294.10Z" fill="none" stroke="#000000" stroke-width="0.65"/><path d="M105.26 290.51L107.06 293.87L103.47 293.87Z" fill="none" stroke="#000000" stroke-width="0.65"/><path d="M106.91 290.06L108.71 293.41L105.12 293.41Z" fill="none" stroke="#000000" stroke-width="0.65"/><path d="M108.57 288.91L110.36 292.26L106.77 292.26Z" fill="none" stroke="#000000" stroke-width="0.65"/><path d="M110.22 287.07L112.01 290.43L108.42 290.43Z" fill="none" stroke="#000000" stroke-width="0.65"/><path d="M111.87 285.24L113.66 288.59L110.07 288.59Z" fill="none" stroke="#000000" stroke-width="0.65"/><path d="M113.52 282.94L115.31 286.30L111.72 286.30Z" fill="none" stroke="#000000" stroke-width="0.65"/><path d="M115.17 280.42L116.96 283.77L113.37 283.77Z" fill="none" stroke="#000000" stroke-width="0.65"/><path d="M116.82 277.66L118.61 281.02L115.02 281.02Z" fill="none" stroke="#000000" stroke-width="0.65"/><path d="M118.47 274.68L120.26 278.03L116.67 278.03Z" fill="none" stroke="#000000" stroke-width="0.65"/><path d="M120.12 271.93L121.91 275.28L118.33 275.28Z" fill="none" stroke="#000000" stroke-width="0.65"/><path d="M121.77 269.40L123.56 272.75L119.98 272.75Z" fill="none" stroke="#000000" stroke-width="0.65"/><path d="M123.42 267.11L125.21 270.46L121.63 270.46Z" fill="none" stroke="#000000" stroke-width="0.65"/><path d="M125.07 265.27L126.86 268.62L123.28 268.62Z" fill="none" stroke="#000000" stroke-width="0.65"/><path d="M126.72 264.12L128.52 267.48L124.93 267.48Z" fill="none" stroke="#000000" stroke-width="0.65"/><path d="M128.37 263.66L130.17 267.02L126.58 267.02Z" fill="none" stroke="#000000" stroke-width="0.65"/><path d="M130.02 263.89L131.82 267.25L128.23 267.25Z" fill="none" stroke="#000000" stroke-width="0.65"/><path d="M131.67 264.69L133.47 268.04L129.88 268.04Z" fill="none" stroke="#000000" stroke-width="0.65"/><path d="M133.32 265.31L135.12 268.66L131.53 268.66Z" fill="none" stroke="#000000" stroke-width="0.65"/><path d="M134.97 266.02L136.77 269.38L133.18 269.38Z" fill="none" stroke="#000000" stroke-width="0.65"/><path d="M136.62 266.73L138.42 270.08L134.83 270.08Z" fill="none" stroke="#000000" stroke-width="0.65"/><path d="M138.27 267.34L140.07 270.70L136.48 270.70Z" fill="none" stroke="#000000" stroke-width="0.65"/><path d="M139.93 267.79L141.72 271.14L138.13 271.14Z" fill="none" stroke="#000000" stroke-width="0.65"/><path d="M141.58 267.99L143.37 271.34L139.78 271.34Z" fill="none" stroke="#000000" stroke-width="0.65"/><path d="M143.23 267.91L145.02 271.27L141.43 271.27Z" fill="none" stroke="#000000" stroke-width="0.65"/><path d="M144.88 267.54L146.67 270.89L143.08 270.89Z" fill="none" stroke="#000000" stroke-width="0.65"/><path d="M146.53 266.85L148.32 270.21L144.73 270.21Z" fill="none" stroke="#000000" stroke-width="0.65"/><path d="M148.18 265.89L149.97 269.24L146.38 269.24Z" fill="none" stroke="#000000" stroke-width="0.65"/><path d="M149.83 264.68L151.62 268.03L148.03 268.03Z" fill="none" stroke="#000000" stroke-width="0.65"/><path d="M151.48 263.29L153.27 266.64L149.68 266.64Z" fill="none" stroke="#000000" stroke-width="0.65"/><path d="M153.13 261.79L154.92 265.14L151.33 265.14Z" fill="none" stroke="#000000" stroke-width="0.65"/><path d="M154.78 260.25L156.57 263.60L152.99 263.60Z" fill="none" stroke="#000000" stroke-width="0.65"/><path d="M156.43 258.75L158.22 262.11L154.64 262.11Z" fill="none" stroke="#000000" stroke-width="0.65"/><path d="M158.08 257.38L159.87 260.73L156.29 260.73Z" fill="none" stroke="#000000" stroke-width="0.65"/><path d="M159.73 256.18L161.53 259.54L157.94 259.54Z" fill="none" stroke="#000000" stroke-width="0.65"/><path d="M161.38 255.23L163.18 258.58L159.59 258.58Z" fill="none" stroke="#000000" stroke-width="0.65"/><path d="M163.03 254.55L164.83 257.90L161.24 257.90Z" fill="none" stroke="#000000" stroke-width="0.65"/><path d="M164.68 254.16L166.48 257.51L162.89 257.51Z" fill="none" stroke="#000000" stroke-width="0.65"/><path d="M166.33 254.06L168.13 257.41L164.54 257.41Z" fill="none" stroke="#000000" stroke-width="0.65"/><path d="M167.98 254.23L169.78 257.58L166.19 257.58Z" fill="none" stroke="#000000" stroke-width="0.65"/><path d="M169.63 254.63L171.43 257.98L167.84 257.98Z" fill="none" stroke="#000000" stroke-width="0.65"/><path d="M171.28 255.21L173.08 258.56L169.49 258.56Z" fill="none" stroke="#000000" stroke-width="0.65"/><path d="M172.94 255.90L174.73 259.25L171.14 259.25Z" fill="none" stroke="#000000" stroke-width="0.65"/><path d="M174.59 256.63L176.38 259.98L172.79 259.98Z" fill="none" stroke="#000000" stroke-width="0.65"/><path d="M176.24 257.34L178.03 260.69L174.44 260.69Z" fill="none" stroke="#000000" stroke-width="0.65"/><path d="M177.89 257.95L179.68 261.30L176.09 261.30Z" fill="none" stroke="#000000" stroke-width="0.65"/><path d="M179.54 258.41L181.33 261.76L177.74 261.76Z" fill="none" stroke="#000000" stroke-width="0.65"/><path d="M181.19 258.67L182.98 262.02L179.39 262.02Z" fill="none" stroke="#000000" stroke-width="0.65"/><path d="M182.84 258.70L184.63 262.05L181.04 262.05Z" fill="none" stroke="#000000" stroke-width="0.65"/><path d="M184.49 258.48L186.28 261.83L182.69 261.83Z" fill="none" stroke="#000000" stroke-width="0.65"/><path d="M186.14 258.02L187.93 261.37L184.34 261.37Z" fill="none" stroke="#000000" stroke-width="0.65"/><path d="M187.79 257.33L189.58 260.69L186.00 260.69Z" fill="none" stroke="#000000" stroke-width="0.65"/><path d="M189.44 256.47L191.23 259.82L187.65 259.82Z" fill="none" stroke="#000000" stroke-width="0.65"/><path d="M191.09 255.46L192.88 258.82L189.30 258.82Z" fill="none" stroke="#000000" stroke-width="0.65"/><path d="M192.74 254.39L194.54 257.74L190.95 257.74Z" fill="none" stroke="#000000" stroke-width="0.65"/><path d="M194.39 253.30L196.19 256.66L192.60 256.66Z" fill="none" stroke="#000000" stroke-width="0.65"/><path d="M196.04 252.27L197.84 255.63L194.25 255.63Z" fill="none" stroke="#000000" stroke-width="0.65"/><path d="M197.69 251.36L199.49 254.72L195.90 254.72Z" fill="none" stroke="#000000" stroke-width="0.65"/><path d="M199.34 250.62L201.14 253.98L197.55 253.98Z" fill="none" stroke="#000000" stroke-width="0.65"/><path d="M200.99 250.10L202.79 253.45L199.20 253.45Z" fill="none" stroke="#000000" stroke-width="0.65"/><path d="M202.64 249.81L204.44 253.17L200.85 253.17Z" fill="none" stroke="#000000" stroke-width="0.65"/><path d="M204.29 249.78L206.09 253.13L202.50 253.13Z" fill="none" stroke="#000000" stroke-width="0.65"/><path d="M205.95 249.99L207.74 253.35L204.15 253.35Z" fill="none" stroke="#000000" stroke-width="0.65"/><path d="M207.60 250.43L209.39 253.78L205.80 253.78Z" fill="none" stroke="#000000" stroke-width="0.65"/><path d="M209.25 251.06L211.04 254.41L207.45 254.41Z" fill="none" stroke="#000000" stroke-width="0.65"/><path d="M210.90 251.82L212.69 255.17L209.10 255.17Z" fill="none" stroke="#000000" stroke-width="0.65"/><path d="M212.55 252.65L214.34 256.01L210.75 256.01Z" fill="none" stroke="#000000" stroke-width="0.65"/><path d="M214.20 253.51L215.99 256.86L212.40 256.86Z" fill="none" stroke="#000000" stroke-width="0.65"/><path d="M215.85 254.31L217.64 257.66L214.05 257.66Z" fill="none" stroke="#000000" stroke-width="0.65"/><path d="M217.50 255.01L219.29 258.36L215.70 258.36Z" fill="none" stroke="#000000" stroke-width="0.65"/><path d="M219.15 255.54L220.94 258.90L217.35 258.90Z" fill="none" stroke="#000000" stroke-width="0.65"/><path d="M220.80 255.88L222.59 259.24L219.01 259.24Z" fill="none" stroke="#000000" stroke-width="0.65"/><path d="M222.45 256.00L224.24 259.35L220.66 259.35Z" fill="none" stroke="#000000" stroke-width="0.65"/><path d="M224.10 255.88L225.89 259.24L222.31 259.24Z" fill="none" stroke="#000000" stroke-width="0.65"/><path d="M225.75 255.54L227.55 258.90L223.96 258.90Z" fill="none" stroke="#000000" stroke-width="0.65"/><path d="M227.40 255.01L229.20 258.36L225.61 258.36Z" fill="none" stroke="#000000" stroke-width="0.65"/><path d="M229.05 254.31L230.85 257.66L227.26 257.66Z" fill="none" stroke="#000000" stroke-width="0.65"/><path d="M230.70 253.51L232.50 256.86L228.91 256.86Z" fill="none" stroke="#000000" stroke-width="0.65"/><path d="M232.35 252.65L234.15 256.01L230.56 256.01Z" fill="none" stroke="#000000" stroke-width="0.65"/><path d="M234.00 251.82L235.80 255.17L232.21 255.17Z" fill="none" stroke="#000000" stroke-width="0.65"/><path d="M235.65 251.06L237.45 254.41L233.86 254.41Z" fill="none" stroke="#000000" stroke-width="0.65"/><path d="M237.30 250.43L239.10 253.78L235.51 253.78Z" fill="none" stroke="#000000" stroke-width="0.65"/><path d="M238.96 249.99L240.75 253.35L237.16 253.35Z" fill="none" stroke="#000000" stroke-width="0.65"/><path d="M240.61 249.78L242.40 253.13L238.81 253.13Z" fill="none" stroke="#000000" stroke-width="0.65"/><path d="M242.26 249.81L244.05 253.17L240.46 253.17Z" fill="none" stroke="#000000" stroke-width="0.65"/><path d="M243.91 250.10L245.70 253.45L242.11 253.45Z" fill="none" stroke="#000000" stroke-width="0.65"/><path d="M245.56 250.62L247.35 253.98L243.76 253.98Z" fill="none" stroke="#000000" stroke-width="0.65"/><path d="M247.21 251.36L249.00 254.72L245.41 254.72Z" fill="none" stroke="#000000" stroke-width="0.65"/><path d="M248.86 252.27L250.65 255.63L247.06 255.63Z" fill="none" stroke="#000000" stroke-width="0.65"/><path d="M250.51 253.30L252.30 256.66L248.71 256.66Z" fill="none" stroke="#000000" stroke-width="0.65"/><path d="M252.16 254.39L253.95 257.74L250.37 257.74Z" fill="none" stroke="#000000" stroke-width="0.65"/><path d="M253.81 255.46L255.60 258.82L252.02 258.82Z" fill="none" stroke="#000000" stroke-width="0.65"/><path d="M255.46 256.47L257.25 259.82L253.67 259.82Z" fill="none" stroke="#000000" stroke-width="0.65"/><path d="M257.11 257.33L258.90 260.69L255.32 260.69Z" fill="none" stroke="#000000" stroke-width="0.65"/><path d="M258.76 258.02L260.56 261.37L256.97 261.37Z" fill="none" stroke="#000000" stroke-width="0.65"/><path d="M260.41 258.48L262.21 261.83L258.62 261.83Z" fill="none" stroke="#000000" stroke-width="0.65"/><path d="M262.06 258.70L263.86 262.05L260.27 262.05Z" fill="none" stroke="#000000" stroke-width="0.65"/><path d="M263.71 258.67L265.51 262.02L261.92 262.02Z" fill="none" stroke="#000000" stroke-width="0.65"/><path d="M265.36 258.41L267.16 261.76L263.57 261.76Z" fill="none" stroke="#000000" stroke-width="0.65"/><path d="M267.01 257.95L268.81 261.30L265.22 261.30Z" fill="none" stroke="#000000" stroke-width="0.65"/><path d="M268.66 257.34L270.46 260.69L266.87 260.69Z" fill="none" stroke="#000000" stroke-width="0.65"/><path d="M270.31 256.63L272.11 259.98L268.52 259.98Z" fill="none" stroke="#000000" stroke-width="0.65"/><path d="M271.96 255.90L273.76 259.25L270.17 259.25Z" fill="none" stroke="#000000" stroke-width="0.65"/><path d="M273.62 255.21L275.41 258.56L271.82 258.56Z" fill="none" stroke="#000000" stroke-width="0.65"/><path d="M275.27 254.63L277.06 257.98L273.47 257.98Z" fill="none" stroke="#000000" stroke-width="0.65"/><path d="M276.92 254.23L278.71 257.58L275.12 257.58Z" fill="none" stroke="#000000" stroke-width="0.65"/><path d="M278.57 254.06L280.36 257.41L276.77 257.41Z" fill="none" stroke="#000000" stroke-width="0.65"/><path d="M280.22 254.16L282.01 257.51L278.42 257.51Z" fill="none" stroke="#000000" stroke-width="0.65"/><path d="M281.87 254.55L283.66 257.90L280.07 257.90Z" fill="none" stroke="#000000" stroke-width="0.65"/><path d="M283.52 255.23L285.31 258.58L281.72 258.58Z" fill="none" stroke="#000000" stroke-width="0.65"/><path d="M285.17 256.18L286.96 259.54L283.38 259.54Z" fill="none" stroke="#000000" stroke-width="0.65"/><path d="M286.82 257.38L288.61 260.73L285.03 260.73Z" fill="none" stroke="#000000" stroke-width="0.65"/><path d="M288.47 258.75L290.26 262.11L286.68 262.11Z" fill="none" stroke="#000000" stroke-width="0.65"/><path d="M290.12 260.25L291.91 263.60L288.33 263.60Z" fill="none" stroke="#000000" stroke-width="0.65"/><path d="M291.77 261.79L293.56 265.14L289.98 265.14Z" fill="none" stroke="#000000" stroke-width="0.65"/><path d="M293.42 263.29L295.22 266.64L291.63 266.64Z" fill="none" stroke="#000000" stroke-width="0.65"/><path d="M295.07 264.68L296.87 268.03L293.28 268.03Z" fill="none" stroke="#000000" stroke-width="0.65"/><path d="M296.72 265.89L298.52 269.24L294.93 269.24Z" fill="none" stroke="#000000" stroke-width="0.65"/><path d="M298.37 266.85L300.17 270.21L296.58 270.21Z" fill="none" stroke="#000000" stroke-width="0.65"/><path d="M300.02 267.54L301.82 270.89L298.23 270.89Z" fill="none" stroke="#000000" stroke-width="0.65"/><path d="M301.67 267.91L303.47 271.27L299.88 271.27Z" fill="none" stroke="#000000" stroke-width="0.65"/><path d="M303.32 267.99L305.12 271.34L301.53 271.34Z" fill="none" stroke="#000000" stroke-width="0.65"/><path d="M304.98 267.79L306.77 271.14L303.18 271.14Z" fill="none" stroke="#000000" stroke-width="0.65"/><path d="M306.63 267.34L308.42 270.70L304.83 270.70Z" fill="none" stroke="#000000" stroke-width="0.65"/><path d="M308.28 266.73L310.07 270.08L306.48 270.08Z" fill="none" stroke="#000000" stroke-width="0.65"/><path d="M309.93 266.02L311.72 269.38L308.13 269.38Z" fill="none" stroke="#000000" stroke-width="0.65"/><path d="M311.58 265.31L313.37 268.66L309.78 268.66Z" fill="none" stroke="#000000" stroke-width="0.65"/><path d="M313.23 264.69L315.02 268.04L311.43 268.04Z" fill="none" stroke="#000000" stroke-width="0.65"/><path d="M314.88 263.89L316.67 267.25L313.08 267.25Z" fill="none" stroke="#000000" stroke-width="0.65"/><path d="M316.53 263.66L318.32 267.02L314.73 267.02Z" fill="none" stroke="#000000" stroke-width="0.65"/><path d="M318.18 264.12L319.97 267.48L316.38 267.48Z" fill="none" stroke="#000000" stroke-width="0.65"/><path d="M319.83 265.27L321.62 268.62L318.04 268.62Z" fill="none" stroke="#000000" stroke-width="0.65"/><path d="M321.48 267.11L323.27 270.46L319.69 270.46Z" fill="none" stroke="#000000" stroke-width="0.65"/><path d="M323.13 269.40L324.92 272.75L321.34 272.75Z" fill="none" stroke="#000000" stroke-width="0.65"/><path d="M324.78 271.93L326.57 275.28L322.99 275.28Z" fill="none" stroke="#000000" stroke-width="0.65"/><path d="M326.43 274.68L328.23 278.03L324.64 278.03Z" fill="none" stroke="#000000" stroke-width="0.65"/><path d="M328.08 277.66L329.88 281.02L326.29 281.02Z" fill="none" stroke="#000000" stroke-width="0.65"/><path d="M329.73 280.42L331.53 283.77L327.94 283.77Z" fill="none" stroke="#000000" stroke-width="0.65"/><path d="M331.38 282.94L333.18 286.30L329.59 286.30Z" fill="none" stroke="#000000" stroke-width="0.65"/><path d="M333.03 285.24L334.83 288.59L331.24 288.59Z" fill="none" stroke="#000000" stroke-width="0.65"/><path d="M334.68 287.07L336.48 290.43L332.89 290.43Z" fill="none" stroke="#000000" stroke-width="0.65"/><path d="M336.33 288.91L338.13 292.26L334.54 292.26Z" fill="none" stroke="#000000" stroke-width="0.65"/><path d="M337.99 290.06L339.78 293.41L336.19 293.41Z" fill="none" stroke="#000000" stroke-width="0.65"/><path d="M339.64 290.51L341.43 293.87L337.84 293.87Z" fill="none" stroke="#000000" stroke-width="0.65"/><path d="M341.29 290.74L343.08 294.10L339.49 294.10Z" fill="none" stroke="#000000" stroke-width="0.65"/><path d="M342.94 290.51L344.73 293.87L341.14 293.87Z" fill="none" stroke="#000000" stroke-width="0.65"/><path d="M344.59 290.06L346.38 293.41L342.79 293.41Z" fill="none" stroke="#000000" stroke-width="0.65"/><path d="M346.24 289.14L348.03 292.49L344.44 292.49Z" fill="none" stroke="#000000" stroke-width="0.65"/><path d="M347.89 287.30L349.68 290.66L346.09 290.66Z" fill="none" stroke="#000000" stroke-width="0.65"/><path d="M349.54 285.47L351.33 288.82L347.74 288.82Z" fill="none" stroke="#000000" stroke-width="0.65"/><path d="M351.19 284.32L352.98 287.67L349.39 287.67Z" fill="none" stroke="#000000" stroke-width="0.65"/><path d="M352.84 284.20L354.63 287.56L351.05 287.56Z" fill="none" stroke="#000000" stroke-width="0.65"/><path d="M354.49 284.55L356.28 287.90L352.70 287.90Z" fill="none" stroke="#000000" stroke-width="0.65"/><path d="M356.14 285.92L357.93 289.28L354.35 289.28Z" fill="none" stroke="#000000" stroke-width="0.65"/><path d="M357.79 288.91L359.58 292.26L356.00 292.26Z" fill="none" stroke="#000000" stroke-width="0.65"/><path d="M359.44 293.04L361.24 296.39L357.65 296.39Z" fill="none" stroke="#000000" stroke-width="0.65"/><path d="M361.09 298.55L362.89 301.90L359.30 301.90Z" fill="none" stroke="#000000" stroke-width="0.65"/><path d="M362.74 305.20L364.54 308.56L360.95 308.56Z" fill="none" stroke="#000000" stroke-width="0.65"/><path d="M364.39 312.78L366.19 316.13L362.60 316.13Z" fill="none" stroke="#000000" stroke-width="0.65"/><path d="M366.04 323.10L367.84 326.46L364.25 326.46Z" fill="none" stroke="#000000" stroke-width="0.65"/><path d="M367.69 330.68L369.49 334.03L365.90 334.03Z" fill="none" stroke="#000000" stroke-width="0.65"/><path d="M369.34 342.61L371.14 345.97L367.55 345.97Z" fill="none" stroke="#000000" stroke-width="0.65"/><path d="M371.00 351.33L372.79 354.69L369.20 354.69Z" fill="none" stroke="#000000" stroke-width="0.65"/><path d="M372.65 363.50L374.44 366.85L370.85 366.85Z" fill="none" stroke="#000000" stroke-width="0.65"/><path d="M374.30 371.53L376.09 374.88L372.50 374.88Z" fill="none" stroke="#000000" stroke-width="0.65"/><path d="M375.95 381.63L377.74 384.98L374.15 384.98Z" fill="none" stroke="#000000" stroke-width="0.65"/><path d="M377.60 388.05L379.39 391.41L375.80 391.41Z" fill="none" stroke="#000000" stroke-width="0.65"/><path d="M379.25 395.05L381.04 398.41L377.45 398.41Z" fill="none" stroke="#000000" stroke-width="0.65"/><path d="M380.90 401.82L382.69 405.18L379.10 405.18Z" fill="none" stroke="#000000" stroke-width="0.65"/><path d="M382.55 401.36L384.34 404.72L380.75 404.72Z" fill="none" stroke="#000000" stroke-width="0.65"/><path d="M384.20 401.36L385.99 404.72L382.41 404.72Z" fill="none" stroke="#000000" stroke-width="0.65"/><path d="M385.85 401.36L387.64 404.72L384.06 404.72Z" fill="none" stroke="#000000" stroke-width="0.65"/></g>
<g><circle cx="62.35" cy="402.62" r="2.3" fill="none" stroke="#46006e" stroke-width="0.65"/><circle cx="64.00" cy="367.97" r="2.3" fill="none" stroke="#46006e" stroke-width="0.65"/><circle cx="65.65" cy="363.38" r="2.3" fill="none" stroke="#46006e" stroke-width="0.65"/><circle cx="67.30" cy="334.92" r="2.3" fill="none" stroke="#46006e" stroke-width="0.65"/><circle cx="68.95" cy="336.53" r="2.3" fill="none" stroke="#46006e" stroke-width="0.65"/><circle cx="70.60" cy="325.05" r="2.3" fill="none" stroke="#46006e" stroke-width="0.65"/><circle cx="72.25" cy="328.50" r="2.3" fill="none" stroke="#46006e" stroke-width="0.65"/><circle cx="73.91" cy="323.91" r="2.3" fill="none" stroke="#46006e" stroke-width="0.65"/><circle cx="75.56" cy="322.07" r="2.3" fill="none" stroke="#46006e" stroke-width="0.65"/><circle cx="77.21" cy="317.94" r="2.3" fill="none" stroke="#46006e" stroke-width="0.65"/><circle cx="78.86" cy="311.82" r="2.3" fill="none" stroke="#46006e" stroke-width="0.65"/><circle cx="80.51" cy="308.79" r="2.3" fill="none" stroke="#46006e" stroke-width="0.65"/><circle cx="82.16" cy="306.53" r="2.3" fill="none" stroke="#46006e" stroke-width="0.65"/><circle cx="83.81" cy="304.07" r="2.3" fill="none" stroke="#46006e" stroke-width="0.65"/><circle cx="85.46" cy="301.91" r="2.3" fill="none" stroke="#46006e" stroke-width="0.65"/><circle cx="87.11" cy="299.95" r="2.3" fill="none" stroke="#46006e" stroke-width="0.65"/><circle cx="88.76" cy="297.82" r="2.3" fill="none" stroke="#46006e" stroke-width="0.65"/><circle cx="90.41" cy="296.28" r="2.3" fill="none" stroke="#46006e" stroke-width="0.65"/><circle cx="92.06" cy="294.15" r="2.3" fill="none" stroke="#46006e" stroke-width="0.65"/><circle cx="93.71" cy="292.99" r="2.3" fill="none" stroke="#46006e" stroke-width="0.65"/><circle cx="95.36" cy="290.85" r="2.3" fill="none" stroke="#46006e" stroke-width="0.65"/><circle cx="97.01" cy="290.00" r="2.3" fill="none" stroke="#46006e" stroke-width="0.65"/><circle cx="98.66" cy="287.87" r="2.3" fill="none" stroke="#46006e" stroke-width="0.65"/><circle cx="100.31" cy="287.26" r="2.3" fill="none" stroke="#46006e" stroke-width="0.65"/><circle cx="101.96" cy="285.16" r="2.3" fill="none" stroke="#46006e" stroke-width="0.65"/><circle cx="103.61" cy="284.72" r="2.3" fill="none" stroke="#46006e" stroke-width="0.65"/><circle cx="105.26" cy="282.69" r="2.3" fill="none" stroke="#46006e" stroke-width="0.65"/><circle cx="106.91" cy="282.35" r="2.3" fill="none" stroke="#46006e" stroke-width="0.65"/><circle cx="108.57" cy="280.43" r="2.3" fill="none" stroke="#46006e" stroke-width="0.65"/><circle cx="110.22" cy="280.13" r="2.3" fill="none" stroke="#46006e" stroke-width="0.65"/><circle cx="111.87" cy="278.38" r="2.3" fill="none" stroke="#46006e" stroke-width="0.65"/><circle cx="113.52" cy="278.04" r="2.3" fill="none" stroke="#46006e" stroke-width="0.65"/><circle cx="115.17" cy="276.49" r="2.3" fill="none" stroke="#46006e" stroke-width="0.65"/><circle cx="116.82" cy="276.07" r="2.3" fill="none" stroke="#46006e" stroke-width="0.65"/><circle cx="118.47" cy="274.76" r="2.3" fill="none" stroke="#46006e" stroke-width="0.65"/><circle cx="120.12" cy="274.21" r="2.3" fill="none" stroke="#46006e" stroke-width="0.65"/><circle cx="121.77" cy="273.16" r="2.3" fill="none" stroke="#46006e" stroke-width="0.65"/><circle cx="123.42" cy="272.45" r="2.3" fill="none" stroke="#46006e" stroke-width="0.65"/><circle cx="125.07" cy="271.67" r="2.3" fill="none" stroke="#46006e" stroke-width="0.65"/><circle cx="126.72" cy="270.80" r="2.3" fill="none" stroke="#46006e" stroke-width="0.65"/><circle cx="128.37" cy="270.29" r="2.3" fill="none" stroke="#46006e" stroke-width="0.65"/><circle cx="130.02" cy="269.26" r="2.3" fill="none" stroke="#46006e" stroke-width="0.65"/><circle cx="131.67" cy="268.98" r="2.3" fill="none" stroke="#46006e" stroke-width="0.65"/><circle cx="133.32" cy="267.81" r="2.3" fill="none" stroke="#46006e" stroke-width="0.65"/><circle cx="134.97" cy="267.75" r="2.3" fill="none" stroke="#46006e" stroke-width="0.65"/><circle cx="136.62" cy="266.47" r="2.3" fill="none" stroke="#46006e" stroke-width="0.65"/><circle cx="138.27" cy="266.58" r="2.3" fill="none" stroke="#46006e" stroke-width="0.65"/><circle cx="139.93" cy="265.23" r="2.3" fill="none" stroke="#46006e" stroke-width="0.65"/><circle cx="141.58" cy="265.46" r="2.3" fill="none" stroke="#46006e" stroke-width="0.65"/><circle cx="143.23" cy="264.08" r="2.3" fill="none" stroke="#46006e" stroke-width="0.65"/><circle cx="144.88" cy="264.37" r="2.3" fill="none" stroke="#46006e" stroke-width="0.65"/><circle cx="146.53" cy="263.04" r="2.3" fill="none" stroke="#46006e" stroke-width="0.65"/><circle cx="148.18" cy="263.33" r="2.3" fill="none" stroke="#46006e" stroke-width="0.65"/><circle cx="149.83" cy="262.09" r="2.3" fill="none" stroke="#46006e" stroke-width="0.65"/><circle cx="151.48" cy="262.32" r="2.3" fill="none" stroke="#46006e" stroke-width="0.65"/><circle cx="153.13" cy="261.22" r="2.3" fill="none" stroke="#46006e" stroke-width="0.65"/><circle cx="154.78" cy="261.35" r="2.3" fill="none" stroke="#46006e" stroke-width="0.65"/><circle cx="156.43" cy="260.44" r="2.3" fill="none" stroke="#46006e" stroke-width="0.65"/><circle cx="158.08" cy="260.42" r="2.3" fill="none" stroke="#46006e" stroke-width="0.65"/><circle cx="159.73" cy="259.72" r="2.3" fill="none" stroke="#46006e" stroke-width="0.65"/><circle cx="161.38" cy="259.53" r="2.3" fill="none" stroke="#46006e" stroke-width="0.65"/><circle cx="163.03" cy="259.07" r="2.3" fill="none" stroke="#46006e" stroke-width="0.65"/><circle cx="164.68" cy="258.69" r="2.3" fill="none" stroke="#46006e" stroke-width="0.65"/><circle cx="166.33" cy="258.47" r="2.3" fill="none" stroke="#46006e" stroke-width="0.65"/><circle cx="167.98" cy="257.90" r="2.3" fill="none" stroke="#46006e" stroke-width="0.65"/><circle cx="169.63" cy="257.91" r="2.3" fill="none" stroke="#46006e" stroke-width="0.65"/><circle cx="171.28" cy="257.16" r="2.3" fill="none" stroke="#46006e" stroke-width="0.65"/><circle cx="172.94" cy="257.39" r="2.3" fill="none" stroke="#46006e" stroke-width="0.65"/><circle cx="174.59" cy="256.50" r="2.3" fill="none" stroke="#46006e" stroke-width="0.65"/><circle cx="176.24" cy="256.89" r="2.3" fill="none" stroke="#46006e" stroke-width="0.65"/><circle cx="177.89" cy="255.89" r="2.3" fill="none" stroke="#46006e" stroke-width="0.65"/><circle cx="179.54" cy="256.41" r="2.3" fill="none" stroke="#46006e" stroke-width="0.65"/><circle cx="181.19" cy="255.36" r="2.3" fill="none" stroke="#46006e" stroke-width="0.65"/><circle cx="182.84" cy="255.95" r="2.3" fill="none" stroke="#46006e" stroke-width="0.65"/><circle cx="184.49" cy="254.90" r="2.3" fill="none" stroke="#46006e" stroke-width="0.65"/><circle cx="186.14" cy="255.50" r="2.3" fill="none" stroke="#46006e" stroke-width="0.65"/><circle cx="187.79" cy="254.51" r="2.3" fill="none" stroke="#46006e" stroke-width="0.65"/><circle cx="189.44" cy="255.06" r="2.3" fill="none" stroke="#46006e" stroke-width="0.65"/><circle cx="191.09" cy="254.19" r="2.3" fill="none" stroke="#46006e" stroke-width="0.65"/><circle cx="192.74" cy="254.64" r="2.3" fill="none" stroke="#46006e" stroke-width="0.65"/><circle cx="194.39" cy="253.92" r="2.3" fill="none" stroke="#46006e" stroke-width="0.65"/><circle cx="196.04" cy="254.24" r="2.3" fill="none" stroke="#46006e" stroke-width="0.65"/><circle cx="197.69" cy="253.72" r="2.3" fill="none" stroke="#46006e" stroke-width="0.65"/><circle cx="199.34" cy="253.86" r="2.3" fill="none" stroke="#46006e" stroke-width="0.65"/><circle cx="200.99" cy="253.57" r="2.3" fill="none" stroke="#46006e" stroke-width="0.65"/><circle cx="202.64" cy="253.52" r="2.3" fill="none" stroke="#46006e" stroke-width="0.65"/><circle cx="204.29" cy="253.45" r="2.3" fill="none" stroke="#46006e" stroke-width="0.65"/><circle cx="205.95" cy="253.21" r="2.3" fill="none" stroke="#46006e" stroke-width="0.65"/><circle cx="207.60" cy="253.38" r="2.3" fill="none" stroke="#46006e" stroke-width="0.65"/><circle cx="209.25" cy="252.94" r="2.3" fill="none" stroke="#46006e" stroke-width="0.65"/><circle cx="210.90" cy="253.33" r="2.3" fill="none" stroke="#46006e" stroke-width="0.65"/><circle cx="212.55" cy="252.73" r="2.3" fill="none" stroke="#46006e" stroke-width="0.65"/><circle cx="214.20" cy="253.29" r="2.3" fill="none" stroke="#46006e" stroke-width="0.65"/><circle cx="215.85" cy="252.57" r="2.3" fill="none" stroke="#46006e" stroke-width="0.65"/><circle cx="217.50" cy="253.28" r="2.3" fill="none" stroke="#46006e" stroke-width="0.65"/><circle cx="219.15" cy="252.47" r="2.3" fill="none" stroke="#46006e" stroke-width="0.65"/><circle cx="220.80" cy="253.27" r="2.3" fill="none" stroke="#46006e" stroke-width="0.65"/><circle cx="222.45" cy="252.44" r="2.3" fill="none" stroke="#46006e" stroke-width="0.65"/><circle cx="224.10" cy="253.27" r="2.3" fill="none" stroke="#46006e" stroke-width="0.65"/><circle cx="225.75" cy="252.47" r="2.3" fill="none" stroke="#46006e" stroke-width="0.65"/><circle cx="227.40" cy="253.28" r="2.3" fill="none" stroke="#46006e" stroke-width="0.65"/><circle cx="229.05" cy="252.57" r="2.3" fill="none" stroke="#46006e" stroke-width="0.65"/><circle cx="230.70" cy="253.29" r="2.3" fill="none" stroke="#46006e" stroke-width="0.65"/><circle cx="232.35" cy="252.73" r="2.3" fill="none" stroke="#46006e" stroke-width="0.65"/><circle cx="234.00" cy="253.33" r="2.3" fill="none" stroke="#46006e" stroke-width="0.65"/><circle cx="235.65" cy="252.94" r="2.3" fill="none" stroke="#46006e" stroke-width="0.65"/><circle cx="237.30" cy="253.38" r="2.3" fill="none" stroke="#46006e" stroke-width="0.65"/><circle cx="238.96" cy="253.21" r="2.3" fill="none" stroke="#46006e" stroke-width="0.65"/><circle cx="240.61" cy="253.45" r="2.3" fill="none" stroke="#46006e" stroke-width="0.65"/><circle cx="242.26" cy="253.52" r="2.3" fill="none" stroke="#46006e" stroke-width="0.65"/><circle cx="243.91" cy="253.57" r="2.3" fill="none" stroke="#46006e" stroke-width="0.65"/><circle cx="245.56" cy="253.86" r="2.3" fill="none" stroke="#46006e" stroke-width="0.65"/><circle cx="247.21" cy="253.72" r="2.3" fill="none" stroke="#46006e" stroke-width="0.65"/><circle cx="248.86" cy="254.24" r="2.3" fill="none" stroke="#46006e" stroke-width="0.65"/><circle cx="250.51" cy="253.92" r="2.3" fill="none" stroke="#46006e" stroke-width="0.65"/><circle cx="252.16" cy="254.64" r="2.3" fill="none" stroke="#46006e" stroke-width="0.65"/><circle cx="253.81" cy="254.19" r="2.3" fill="none" stroke="#46006e" stroke-width="0.65"/><circle cx="255.46" cy="255.06" r="2.3" fill="none" stroke="#46006e" stroke-width="0.65"/><circle cx="257.11" cy="254.51" r="2.3" fill="none" stroke="#46006e" stroke-width="0.65"/><circle cx="258.76" cy="255.50" r="2.3" fill="none" stroke="#46006e" stroke-width="0.65"/><circle cx="260.41" cy="254.90" r="2.3" fill="none" stroke="#46006e" stroke-width="0.65"/><circle cx="262.06" cy="255.95" r="2.3" fill="none" stroke="#46006e" stroke-width="0.65"/><circle cx="263.71" cy="255.36" r="2.3" fill="none" stroke="#46006e" stroke-width="0.65"/><circle cx="265.36" cy="256.41" r="2.3" fill="none" stroke="#46006e" stroke-width="0.65"/><circle cx="267.01" cy="255.89" r="2.3" fill="none" stroke="#46006e" stroke-width="0.65"/><circle cx="268.66" cy="256.89" r="2.3" fill="none" stroke="#46006e" stroke-width="0.65"/><circle cx="270.31" cy="256.50" r="2.3" fill="none" stroke="#46006e" stroke-width="0.65"/><circle cx="271.96" cy="257.39" r="2.3" fill="none" stroke="#46006e" stroke-width="0.65"/><circle cx="273.62" cy="257.16" r="2.3" fill="none" stroke="#46006e" stroke-width="0.65"/><circle cx="275.27" cy="257.91" r="2.3" fill="none" stroke="#46006e" stroke-width="0.65"/><circle cx="276.92" cy="257.90" r="2.3" fill="none" stroke="#46006e" stroke-width="0.65"/><circle cx="278.57" cy="258.47" r="2.3" fill="none" stroke="#46006e" stroke-width="0.65"/><circle cx="280.22" cy="258.69" r="2.3" fill="none" stroke="#46006e" stroke-width="0.65"/><circle cx="281.87" cy="259.07" r="2.3" fill="none" stroke="#46006e" stroke-width="0.65"/><circle cx="283.52" cy="259.53" r="2.3" fill="none" stroke="#46006e" stroke-width="0.65"/><circle cx="285.17" cy="259.72" r="2.3" fill="none" stroke="#46006e" stroke-width="0.65"/><circle cx="286.82" cy="260.42" r="2.3" fill="none" stroke="#46006e" stroke-width="0.65"/><circle cx="288.47" cy="260.44" r="2.3" fill="none" stroke="#46006e" stroke-width="0.65"/><circle cx="290.12" cy="261.35" r="2.3" fill="none" stroke="#46006e" stroke-width="0.65"/><circle cx="291.77" cy="261.22" r="2.3" fill="none" stroke="#46006e" stroke-width="0.65"/><circle cx="293.42" cy="262.32" r="2.3" fill="none" stroke="#46006e" stroke-width="0.65"/><circle cx="295.07" cy="262.09" r="2.3" fill="none" stroke="#46006e" stroke-width="0.65"/><circle cx="296.72" cy="263.33" r="2.3" fill="none" stroke="#46006e" stroke-width="0.65"/><circle cx="298.37" cy="263.04" r="2.3" fill="none" stroke="#46006e" stroke-width="0.65"/><circle cx="300.02" cy="264.37" r="2.3" fill="none" stroke="#46006e" stroke-width="0.65"/><circle cx="301.67" cy="264.08" r="2.3" fill="none" stroke="#46006e" stroke-width="0.65"/><circle cx="303.32" cy="265.46" r="2.3" fill="none" stroke="#46006e" stroke-width="0.65"/><circle cx="304.98" cy="265.23" r="2.3" fill="none" stroke="#46006e" stroke-width="0.65"/><circle cx="306.63" cy="266.58" r="2.3" fill="none" stroke="#46006e" stroke-width="0.65"/><circle cx="308.28" cy="266.47" r="2.3" fill="none" stroke="#46006e" stroke-width="0.65"/><circle cx="309.93" cy="267.75" r="2.3" fill="none" stroke="#46006e" stroke-width="0.65"/><circle cx="311.58" cy="267.81" r="2.3" fill="none" stroke="#46006e" stroke-width="0.65"/><circle cx="313.23" cy="268.98" r="2.3" fill="none" stroke="#46006e" stroke-width="0.65"/><circle cx="314.88" cy="269.26" r="2.3" fill="none" stroke="#46006e" stroke-width="0.65"/><circle cx="316.53" cy="270.29" r="2.3" fill="none" stroke="#46006e" stroke-width="0.65"/><circle cx="318.18" cy="270.80" r="2.3" fill="none" stroke="#46006e" stroke-width="0.65"/><circle cx="319.83" cy="271.67" r="2.3" fill="none" stroke="#46006e" stroke-width="0.65"/><circle cx="321.48" cy="272.45" r="2.3" fill="none" stroke="#46006e" stroke-width="0.65"/><circle cx="323.13" cy="273.16" r="2.3" fill="none" stroke="#46006e" stroke-width="0.65"/><circle cx="324.78" cy="274.21" r="2.3" fill="none" stroke="#46006e" stroke-width="0.65"/><circle cx="326.43" cy="274.76" r="2.3" fill="none" stroke="#46006e" stroke-width="0.65"/><circle cx="328.08" cy="276.07" r="2.3" fill="none" stroke="#46006e" stroke-width="0.65"/><circle cx="329.73" cy="276.49" r="2.3" fill="none" stroke="#46006e" stroke-width="0.65"/><circle cx="331.38" cy="278.04" r="2.3" fill="none" stroke="#46006e" stroke-width="0.65"/><circle cx="333.03" cy="278.38" r="2.3" fill="none" stroke="#46006e" stroke-width="0.65"/><circle cx="334.68" cy="280.13" r="2.3" fill="none" stroke="#46006e" stroke-width="0.65"/><circle cx="336.33" cy="280.43" r="2.3" fill="none" stroke="#46006e" stroke-width="0.65"/><circle cx="337.99" cy="282.35" r="2.3" fill="none" stroke="#46006e" stroke-width="0.65"/><circle cx="339.64" cy="282.69" r="2.3" fill="none" stroke="#46006e" stroke-width="0.65"/><circle cx="341.29" cy="284.72" r="2.3" fill="none" stroke="#46006e" stroke-width="0.65"/><circle cx="342.94" cy="285.16" r="2.3" fill="none" stroke="#46006e" stroke-width="0.65"/><circle cx="344.59" cy="287.26" r="2.3" fill="none" stroke="#46006e" stroke-width="0.65"/><circle cx="346.24" cy="287.87" r="2.3" fill="none" stroke="#46006e" stroke-width="0.65"/><circle cx="347.89" cy="290.00" r="2.3" fill="none" stroke="#46006e" stroke-width="0.65"/><circle cx="349.54" cy="290.85" r="2.3" fill="none" stroke="#46006e" stroke-width="0.65"/><circle cx="351.19" cy="292.99" r="2.3" fill="none" stroke="#46006e" stroke-width="0.65"/><circle cx="352.84" cy="294.15" r="2.3" fill="none" stroke="#46006e" stroke-width="0.65"/><circle cx="354.49" cy="296.28" r="2.3" fill="none" stroke="#46006e" stroke-width="0.65"/><circle cx="356.14" cy="297.82" r="2.3" fill="none" stroke="#46006e" stroke-width="0.65"/><circle cx="357.79" cy="299.95" r="2.3" fill="none" stroke="#46006e" stroke-width="0.65"/><circle cx="359.44" cy="301.91" r="2.3" fill="none" stroke="#46006e" stroke-width="0.65"/><circle cx="361.09" cy="304.07" r="2.3" fill="none" stroke="#46006e" stroke-width="0.65"/><circle cx="362.74" cy="306.53" r="2.3" fill="none" stroke="#46006e" stroke-width="0.65"/><circle cx="364.39" cy="308.79" r="2.3" fill="none" stroke="#46006e" stroke-width="0.65"/><circle cx="366.04" cy="311.82" r="2.3" fill="none" stroke="#46006e" stroke-width="0.65"/><circle cx="367.69" cy="317.94" r="2.3" fill="none" stroke="#46006e" stroke-width="0.65"/><circle cx="369.34" cy="322.07" r="2.3" fill="none" stroke="#46006e" stroke-width="0.65"/><circle cx="371.00" cy="323.91" r="2.3" fill="none" stroke="#46006e" stroke-width="0.65"/><circle cx="372.65" cy="328.50" r="2.3" fill="none" stroke="#46006e" stroke-width="0.65"/><circle cx="374.30" cy="325.05" r="2.3" fill="none" stroke="#46006e" stroke-width="0.65"/><circle cx="375.95" cy="336.53" r="2.3" fill="none" stroke="#46006e" stroke-width="0.65"/><circle cx="377.60" cy="334.92" r="2.3" fill="none" stroke="#46006e" stroke-width="0.65"/><circle cx="379.25" cy="363.38" r="2.3" fill="none" stroke="#46006e" stroke-width="0.65"/><circle cx="380.90" cy="367.97" r="2.3" fill="none" stroke="#46006e" stroke-width="0.65"/><circle cx="382.55" cy="402.62" r="2.3" fill="none" stroke="#46006e" stroke-width="0.65"/></g>
<rect x="156.4" y="362.4" width="148.79999999999998" height="42.30000000000001" fill="#fff" stroke="#5a5a5a" stroke-width="1"/>
<path d="M162.25 371.75L164.04 375.10L160.46 375.10Z" fill="none" stroke="#000000" stroke-width="0.65"/>
<text transform="translate(166.41,379.90) scale(1.0000,1)" font-size="19" style="font-style:italic">h</text>
<path d="M182.40 373.50h10.0M182.40 377.00h10.0" fill="none" stroke="#000" stroke-width="1.15"/>
<text transform="translate(197.57,379.90) scale(1.0093,1)" font-size="19" style="">0.50</text>
<text transform="translate(229.88,379.90) scale(1.1000,1)" font-size="19" style="">(</text>
<text transform="translate(237.62,379.90) scale(1.0000,1)" font-size="19" style="font-style:italic">c</text>
<path d="M252.80 373.90c1.6 -2.2 3.4 -2.2 5.2 -1.0s3.6 1.2 5.50 -1.2" fill="none" stroke="#000" stroke-width="1.2"/>
<path d="M252.80 377.40h10.7" fill="none" stroke="#000" stroke-width="1.15"/>
<text transform="translate(268.95,379.90) scale(0.9889,1)" font-size="19" style="">1.3</text>
<text transform="translate(292.64,379.90) scale(1.0800,1)" font-size="19" style="">)</text>
<circle cx="162.25" cy="393.30" r="2.3" fill="none" stroke="#46006e" stroke-width="0.65"/>
<text transform="translate(166.41,399.00) scale(1.0000,1)" font-size="19" style="font-style:italic">h</text>
<path d="M182.40 392.60h10.0M182.40 396.10h10.0" fill="none" stroke="#000" stroke-width="1.15"/>
<text transform="translate(197.57,399.00) scale(1.0099,1)" font-size="19" style="">0.85</text>
<text transform="translate(229.88,399.00) scale(1.1000,1)" font-size="19" style="">(</text>
<text transform="translate(237.62,399.00) scale(1.0000,1)" font-size="19" style="font-style:italic">c</text>
<path d="M252.80 393.00c1.6 -2.2 3.4 -2.2 5.2 -1.0s3.6 1.2 5.50 -1.2" fill="none" stroke="#000" stroke-width="1.2"/>
<path d="M252.80 396.50h10.7" fill="none" stroke="#000" stroke-width="1.15"/>
<text transform="translate(268.95,399.00) scale(0.9880,1)" font-size="19" style="">1.0</text>
<text transform="translate(292.64,399.00) scale(1.0800,1)" font-size="19" style="">)</text>
<line x1="469.10" y1="405.70" x2="469.10" y2="401.20" stroke="#a8a8a8" stroke-width="0.6"/>
<line x1="634.30" y1="405.70" x2="634.30" y2="401.20" stroke="#a8a8a8" stroke-width="0.6"/>
<line x1="799.50" y1="405.70" x2="799.50" y2="401.20" stroke="#a8a8a8" stroke-width="0.6"/>
<line x1="469.50" y1="405.70" x2="474.00" y2="405.70" stroke="#a8a8a8" stroke-width="0.6"/>
<line x1="469.50" y1="342.15" x2="474.00" y2="342.15" stroke="#a8a8a8" stroke-width="0.6"/>
<line x1="469.50" y1="278.60" x2="474.00" y2="278.60" stroke="#a8a8a8" stroke-width="0.6"/>
<rect x="469.50" y="227.50" width="330.00" height="178.20" fill="none" stroke="#5a5a5a" stroke-width="1"/>
<text x="469.10" y="422.40" font-size="19" text-anchor="middle"  style="">0.0</text>
<text x="634.30" y="422.40" font-size="19" text-anchor="middle"  style="">0.5</text>
<text x="799.50" y="422.40" font-size="19" text-anchor="middle"  style="">1.0</text>
<text x="466.10" y="411.95" font-size="19" text-anchor="end"  style="">0.0</text>
<text x="466.10" y="348.40" font-size="19" text-anchor="end"  style="">0.5</text>
<text x="466.10" y="284.85" font-size="19" text-anchor="end"  style="">1.0</text>
<text transform="translate(435.5,316.60) rotate(-90)" font-size="19" text-anchor="middle" style="font-style:italic">c</text>
<text transform="translate(473.26,245.00) scale(1.0056,1)" font-size="19" style="">(d)</text>
<text x="596.80" y="443.80" font-size="19" text-anchor="start"  style="font-style:italic">h</text>
<path d="M611.70 439.10h10.4" stroke="#000" stroke-width="1.0"/>
<text x="627.00" y="443.80" font-size="19" text-anchor="start"  style="font-style:italic">h</text>
<text x="636.30" y="447.00" font-size="13" text-anchor="start"  style="font-style:italic">c</text>
<text x="642.40" y="447.00" font-size="13" text-anchor="start"  style="">1</text>
<text x="649.20" y="443.80" font-size="19" text-anchor="start"  style="">(</text>
<text transform="translate(654.53,443.80) scale(1.0882,1)" font-size="19" style="font-style:italic">β</text>
<text x="665.50" y="443.80" font-size="19" text-anchor="start"  style="">)</text>
<clipPath id="cd"><rect x="469.5" y="227.5" width="330.0" height="178.2"/></clipPath>
<polyline clip-path="url(#cd)" points="469.10,475.61 485.62,343.42 502.14,283.94 518.66,283.68 535.18,283.43 551.70,284.45 568.22,282.41 584.74,281.14 601.26,280.25 617.78,279.74 634.30,278.09 650.82,277.20 667.34,276.44 683.86,276.06 700.38,275.55 716.90,275.04 733.42,274.79 749.94,275.04 766.46,275.30 782.98,276.95 799.50,275.80" fill="none" stroke="#505050" stroke-width="0.75"/>
<polyline points="469.10,405.70 485.62,254.58 502.14,243.77 518.66,255.59 535.18,267.16 551.70,272.12 568.22,275.68 584.74,277.58 601.26,280.13 617.78,280.25 634.30,281.01 650.82,281.40 667.34,281.65 683.86,281.40 700.38,317.87 716.90,281.65 733.42,281.65 749.94,281.90 766.46,281.90 782.98,282.41 799.50,282.16" fill="none" stroke="#2c9a9a" stroke-width="0.85"/>
<circle cx="485.62" cy="343.42" r="2.15" fill="none" stroke="#1a1a1a" stroke-width="0.75"/>
<circle cx="502.14" cy="283.94" r="2.15" fill="none" stroke="#1a1a1a" stroke-width="0.75"/>
<circle cx="518.66" cy="283.68" r="2.15" fill="none" stroke="#1a1a1a" stroke-width="0.75"/>
<circle cx="535.18" cy="283.43" r="2.15" fill="none" stroke="#1a1a1a" stroke-width="0.75"/>
<circle cx="551.70" cy="284.45" r="2.15" fill="none" stroke="#1a1a1a" stroke-width="0.75"/>
<circle cx="568.22" cy="282.41" r="2.15" fill="none" stroke="#1a1a1a" stroke-width="0.75"/>
<circle cx="584.74" cy="281.14" r="2.15" fill="none" stroke="#1a1a1a" stroke-width="0.75"/>
<circle cx="601.26" cy="280.25" r="2.15" fill="none" stroke="#1a1a1a" stroke-width="0.75"/>
<circle cx="617.78" cy="279.74" r="2.15" fill="none" stroke="#1a1a1a" stroke-width="0.75"/>
<circle cx="634.30" cy="278.09" r="2.15" fill="none" stroke="#1a1a1a" stroke-width="0.75"/>
<circle cx="650.82" cy="277.20" r="2.15" fill="none" stroke="#1a1a1a" stroke-width="0.75"/>
<circle cx="667.34" cy="276.44" r="2.15" fill="none" stroke="#1a1a1a" stroke-width="0.75"/>
<circle cx="683.86" cy="276.06" r="2.15" fill="none" stroke="#1a1a1a" stroke-width="0.75"/>
<circle cx="700.38" cy="275.55" r="2.15" fill="none" stroke="#1a1a1a" stroke-width="0.75"/>
<circle cx="716.90" cy="275.04" r="2.15" fill="none" stroke="#1a1a1a" stroke-width="0.75"/>
<circle cx="733.42" cy="274.79" r="2.15" fill="none" stroke="#1a1a1a" stroke-width="0.75"/>
<circle cx="749.94" cy="275.04" r="2.15" fill="none" stroke="#1a1a1a" stroke-width="0.75"/>
<circle cx="766.46" cy="275.30" r="2.15" fill="none" stroke="#1a1a1a" stroke-width="0.75"/>
<circle cx="782.98" cy="276.95" r="2.15" fill="none" stroke="#1a1a1a" stroke-width="0.75"/>
<circle cx="799.50" cy="275.80" r="2.15" fill="none" stroke="#1a1a1a" stroke-width="0.75"/>
<circle cx="469.10" cy="405.70" r="2.2" fill="none" stroke="#2c9a9a" stroke-width="0.85"/>
<circle cx="485.62" cy="254.58" r="2.2" fill="none" stroke="#2c9a9a" stroke-width="0.85"/>
<circle cx="502.14" cy="243.77" r="2.2" fill="none" stroke="#2c9a9a" stroke-width="0.85"/>
<circle cx="518.66" cy="255.59" r="2.2" fill="none" stroke="#2c9a9a" stroke-width="0.85"/>
<circle cx="535.18" cy="267.16" r="2.2" fill="none" stroke="#2c9a9a" stroke-width="0.85"/>
<circle cx="551.70" cy="272.12" r="2.2" fill="none" stroke="#2c9a9a" stroke-width="0.85"/>
<circle cx="568.22" cy="275.68" r="2.2" fill="none" stroke="#2c9a9a" stroke-width="0.85"/>
<circle cx="584.74" cy="277.58" r="2.2" fill="none" stroke="#2c9a9a" stroke-width="0.85"/>
<circle cx="601.26" cy="280.13" r="2.2" fill="none" stroke="#2c9a9a" stroke-width="0.85"/>
<circle cx="617.78" cy="280.25" r="2.2" fill="none" stroke="#2c9a9a" stroke-width="0.85"/>
<circle cx="634.30" cy="281.01" r="2.2" fill="none" stroke="#2c9a9a" stroke-width="0.85"/>
<circle cx="650.82" cy="281.40" r="2.2" fill="none" stroke="#2c9a9a" stroke-width="0.85"/>
<circle cx="667.34" cy="281.65" r="2.2" fill="none" stroke="#2c9a9a" stroke-width="0.85"/>
<circle cx="683.86" cy="281.40" r="2.2" fill="none" stroke="#2c9a9a" stroke-width="0.85"/>
<circle cx="700.38" cy="317.87" r="2.2" fill="none" stroke="#2c9a9a" stroke-width="0.85"/>
<circle cx="716.90" cy="281.65" r="2.2" fill="none" stroke="#2c9a9a" stroke-width="0.85"/>
<circle cx="733.42" cy="281.65" r="2.2" fill="none" stroke="#2c9a9a" stroke-width="0.85"/>
<circle cx="749.94" cy="281.90" r="2.2" fill="none" stroke="#2c9a9a" stroke-width="0.85"/>
<circle cx="766.46" cy="281.90" r="2.2" fill="none" stroke="#2c9a9a" stroke-width="0.85"/>
<circle cx="782.98" cy="282.41" r="2.2" fill="none" stroke="#2c9a9a" stroke-width="0.85"/>
<circle cx="799.50" cy="282.16" r="2.2" fill="none" stroke="#2c9a9a" stroke-width="0.85"/>
<rect x="540.9" y="354.6" width="176.10000000000002" height="42.19999999999999" fill="#fff" stroke="#5a5a5a" stroke-width="1"/>
<line x1="544.6" y1="366.3" x2="563.3" y2="366.3" stroke="#333" stroke-width="0.7"/>
<circle cx="553.90" cy="366.30" r="2.3" fill="none" stroke="#1a1a1a" stroke-width="0.75"/>
<line x1="544.6" y1="385.25" x2="563.3" y2="385.25" stroke="#2c9a9a" stroke-width="0.7"/>
<circle cx="553.90" cy="385.25" r="2.3" fill="none" stroke="#2c9a9a" stroke-width="0.75"/>
<text transform="translate(575.92,371.60) scale(0.9511,1)" font-size="19" style="">AKLT</text>
<text transform="translate(628.87,371.60) scale(1.0000,1)" font-size="19" style="">(</text>
<text transform="translate(635.23,371.60) scale(1.0779,1)" font-size="19" style="font-style:italic">β</text>
<path d="M651.00 365.20h10.4M651.00 368.70h10.4" fill="none" stroke="#000" stroke-width="1.15"/>
<text transform="translate(668.93,371.60) scale(1.0000,1)" font-size="19" style="">1</text>
<path d="M678.6 375.00L684.6 358.40" stroke="#000" stroke-width="1.0" fill="none"/>
<text transform="translate(685.59,371.60) scale(1.0000,1)" font-size="19" style="">3</text>
<text transform="translate(695.19,371.60) scale(1.0000,1)" font-size="19" style="">)</text>
<text transform="translate(565.76,390.10) scale(0.9905,1)" font-size="19" style="">Heisenberg</text>
<text transform="translate(656.97,390.10) scale(1.0000,1)" font-size="19" style="">(</text>
<text transform="translate(662.32,390.10) scale(1.0574,1)" font-size="19" style="font-style:italic">β</text>
<path d="M679.20 383.70h10.0M679.20 387.20h10.0" fill="none" stroke="#000" stroke-width="1.15"/>
<text transform="translate(695.48,390.10) scale(1.0000,1)" font-size="19" style="">0</text>
<text transform="translate(704.99,390.10) scale(1.0000,1)" font-size="19" style="">)</text>
</svg>
</body></html>
